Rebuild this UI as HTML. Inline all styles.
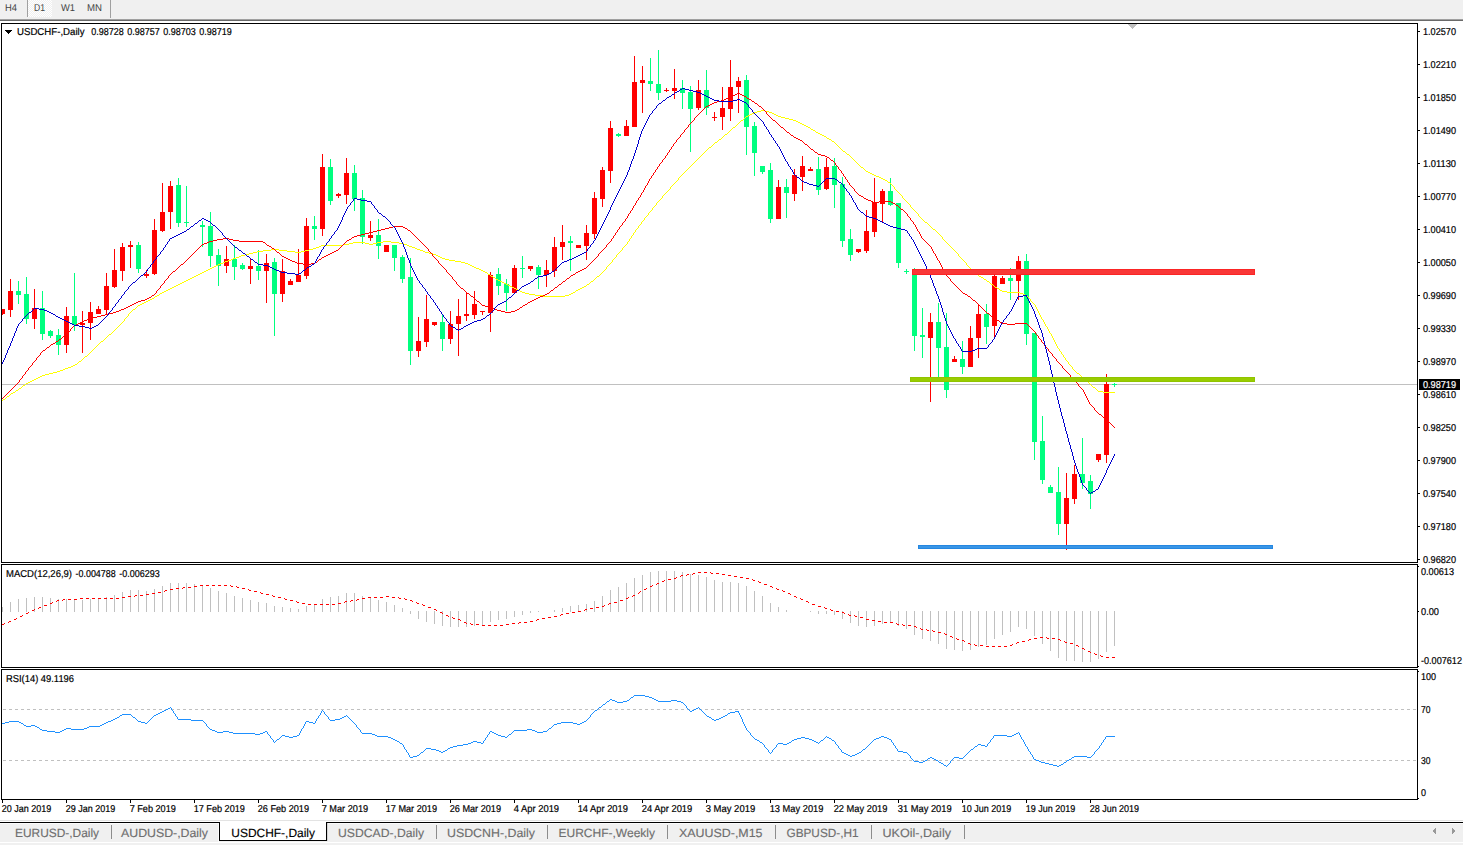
<!DOCTYPE html>
<html><head><meta charset="utf-8"><title>USDCHF-,Daily</title>
<style>html,body{margin:0;padding:0;background:#fff;overflow:hidden}svg{display:block;font-family:"Liberation Sans",sans-serif}text{white-space:pre}</style>
</head><body>
<svg width="1463" height="845" viewBox="0 0 1463 845" shape-rendering="crispEdges" text-rendering="geometricPrecision">
<defs><pattern id="chk" width="2" height="2" patternUnits="userSpaceOnUse"><rect width="2" height="2" fill="#f0f0f0"/><rect width="1" height="1" fill="#fff"/><rect x="1" y="1" width="1" height="1" fill="#fff"/></pattern></defs>
<rect x="0" y="0" width="1463" height="845" fill="#fff"/>
<rect x="0" y="0" width="1463" height="19" fill="#f0f0f0"/>
<rect x="0" y="19" width="1463" height="1" fill="#a0a0a0"/>
<rect x="0" y="20" width="1463" height="1" fill="#696969"/>
<rect x="28" y="0" width="24" height="17" fill="url(#chk)"/>
<rect x="27" y="0" width="1" height="17" fill="#a0a0a0"/>
<rect x="110" y="0" width="1" height="18" fill="#a0a0a0"/>
<text x="5" y="11" font-size="10" fill="#444" stroke="#444" stroke-width="0" textLength="12" lengthAdjust="spacingAndGlyphs">H4</text>
<text x="34" y="11" font-size="10" fill="#444" stroke="#444" stroke-width="0" textLength="11" lengthAdjust="spacingAndGlyphs">D1</text>
<text x="61" y="11" font-size="10" fill="#444" stroke="#444" stroke-width="0" textLength="14" lengthAdjust="spacingAndGlyphs">W1</text>
<text x="87" y="11" font-size="10" fill="#444" stroke="#444" stroke-width="0" textLength="15" lengthAdjust="spacingAndGlyphs">MN</text>
<rect x="1" y="23" width="1417" height="1" fill="#000"/>
<rect x="1" y="23" width="1" height="540" fill="#000"/>
<rect x="1417" y="23" width="1" height="540" fill="#000"/>
<rect x="1" y="562" width="1417" height="1" fill="#000"/>
<rect x="1" y="564" width="1417" height="1" fill="#000"/>
<rect x="1" y="564" width="1" height="104" fill="#000"/>
<rect x="1417" y="564" width="1" height="104" fill="#000"/>
<rect x="1" y="667" width="1417" height="1" fill="#000"/>
<rect x="1" y="669" width="1417" height="1" fill="#000"/>
<rect x="1" y="669" width="1" height="131" fill="#000"/>
<rect x="1417" y="669" width="1" height="131" fill="#000"/>
<rect x="1" y="799" width="1417" height="1" fill="#000"/>
<rect x="1418" y="31" width="2" height="1" fill="#000"/>
<text x="1423" y="35" font-size="10" fill="#000" stroke="#000" stroke-width="0.2" textLength="33" lengthAdjust="spacingAndGlyphs">1.02570</text>
<rect x="1418" y="64" width="2" height="1" fill="#000"/>
<text x="1423" y="68" font-size="10" fill="#000" stroke="#000" stroke-width="0.2" textLength="33" lengthAdjust="spacingAndGlyphs">1.02210</text>
<rect x="1418" y="97" width="2" height="1" fill="#000"/>
<text x="1423" y="101" font-size="10" fill="#000" stroke="#000" stroke-width="0.2" textLength="33" lengthAdjust="spacingAndGlyphs">1.01850</text>
<rect x="1418" y="130" width="2" height="1" fill="#000"/>
<text x="1423" y="134" font-size="10" fill="#000" stroke="#000" stroke-width="0.2" textLength="33" lengthAdjust="spacingAndGlyphs">1.01490</text>
<rect x="1418" y="163" width="2" height="1" fill="#000"/>
<text x="1423" y="167" font-size="10" fill="#000" stroke="#000" stroke-width="0.2" textLength="33" lengthAdjust="spacingAndGlyphs">1.01130</text>
<rect x="1418" y="196" width="2" height="1" fill="#000"/>
<text x="1423" y="200" font-size="10" fill="#000" stroke="#000" stroke-width="0.2" textLength="33" lengthAdjust="spacingAndGlyphs">1.00770</text>
<rect x="1418" y="229" width="2" height="1" fill="#000"/>
<text x="1423" y="233" font-size="10" fill="#000" stroke="#000" stroke-width="0.2" textLength="33" lengthAdjust="spacingAndGlyphs">1.00410</text>
<rect x="1418" y="262" width="2" height="1" fill="#000"/>
<text x="1423" y="266" font-size="10" fill="#000" stroke="#000" stroke-width="0.2" textLength="33" lengthAdjust="spacingAndGlyphs">1.00050</text>
<rect x="1418" y="295" width="2" height="1" fill="#000"/>
<text x="1423" y="299" font-size="10" fill="#000" stroke="#000" stroke-width="0.2" textLength="33" lengthAdjust="spacingAndGlyphs">0.99690</text>
<rect x="1418" y="328" width="2" height="1" fill="#000"/>
<text x="1423" y="332" font-size="10" fill="#000" stroke="#000" stroke-width="0.2" textLength="33" lengthAdjust="spacingAndGlyphs">0.99330</text>
<rect x="1418" y="361" width="2" height="1" fill="#000"/>
<text x="1423" y="365" font-size="10" fill="#000" stroke="#000" stroke-width="0.2" textLength="33" lengthAdjust="spacingAndGlyphs">0.98970</text>
<rect x="1418" y="394" width="2" height="1" fill="#000"/>
<text x="1423" y="398" font-size="10" fill="#000" stroke="#000" stroke-width="0.2" textLength="33" lengthAdjust="spacingAndGlyphs">0.98610</text>
<rect x="1418" y="427" width="2" height="1" fill="#000"/>
<text x="1423" y="431" font-size="10" fill="#000" stroke="#000" stroke-width="0.2" textLength="33" lengthAdjust="spacingAndGlyphs">0.98250</text>
<rect x="1418" y="460" width="2" height="1" fill="#000"/>
<text x="1423" y="464" font-size="10" fill="#000" stroke="#000" stroke-width="0.2" textLength="33" lengthAdjust="spacingAndGlyphs">0.97900</text>
<rect x="1418" y="493" width="2" height="1" fill="#000"/>
<text x="1423" y="497" font-size="10" fill="#000" stroke="#000" stroke-width="0.2" textLength="33" lengthAdjust="spacingAndGlyphs">0.97540</text>
<rect x="1418" y="526" width="2" height="1" fill="#000"/>
<text x="1423" y="530" font-size="10" fill="#000" stroke="#000" stroke-width="0.2" textLength="33" lengthAdjust="spacingAndGlyphs">0.97180</text>
<rect x="1418" y="559" width="2" height="1" fill="#000"/>
<text x="1423" y="563" font-size="10" fill="#000" stroke="#000" stroke-width="0.2" textLength="33" lengthAdjust="spacingAndGlyphs">0.96820</text>
<rect x="1418" y="566" width="1" height="1" fill="#000"/>
<rect x="1418" y="611" width="1" height="1" fill="#000"/>
<rect x="1418" y="666" width="1" height="1" fill="#000"/>
<text x="1421" y="575" font-size="10" fill="#000" stroke="#000" stroke-width="0.2" textLength="33" lengthAdjust="spacingAndGlyphs">0.00613</text>
<text x="1421" y="615" font-size="10" fill="#000" stroke="#000" stroke-width="0.2" textLength="18" lengthAdjust="spacingAndGlyphs">0.00</text>
<text x="1421" y="664" font-size="10" fill="#000" stroke="#000" stroke-width="0.2" textLength="41" lengthAdjust="spacingAndGlyphs">-0.007612</text>
<rect x="1418" y="671" width="1" height="1" fill="#000"/>
<rect x="1418" y="798" width="1" height="1" fill="#000"/>
<text x="1421" y="680" font-size="10" fill="#000" stroke="#000" stroke-width="0.2" textLength="15" lengthAdjust="spacingAndGlyphs">100</text>
<text x="1421" y="713" font-size="10" fill="#000" stroke="#000" stroke-width="0.2" textLength="9.5" lengthAdjust="spacingAndGlyphs">70</text>
<text x="1421" y="764" font-size="10" fill="#000" stroke="#000" stroke-width="0.2" textLength="9.5" lengthAdjust="spacingAndGlyphs">30</text>
<text x="1421" y="796" font-size="10" fill="#000" stroke="#000" stroke-width="0.2" textLength="5" lengthAdjust="spacingAndGlyphs">0</text>
<rect x="2" y="384" width="1415" height="1" fill="#c0c0c0"/>
<rect x="1128" y="24" width="9" height="1" fill="#c0c0c0"/>
<rect x="1129" y="25" width="7" height="1" fill="#c0c0c0"/>
<rect x="1130" y="26" width="5" height="1" fill="#c0c0c0"/>
<rect x="1131" y="27" width="3" height="1" fill="#c0c0c0"/>
<rect x="1132" y="28" width="1" height="1" fill="#c0c0c0"/>
<g>
<rect x="2" y="309" width="1" height="6" fill="#ff0000"/>
<rect x="2" y="309" width="3" height="5" fill="#ff0000"/>
<rect x="10" y="279" width="1" height="38" fill="#ff0000"/>
<rect x="8" y="291" width="5" height="19" fill="#ff0000"/>
<rect x="18" y="281" width="1" height="23" fill="#00ff7f"/>
<rect x="16" y="291" width="5" height="4" fill="#00ff7f"/>
<rect x="26" y="277" width="1" height="47" fill="#00ff7f"/>
<rect x="24" y="294" width="5" height="25" fill="#00ff7f"/>
<rect x="34" y="289" width="1" height="40" fill="#ff0000"/>
<rect x="32" y="308" width="5" height="11" fill="#ff0000"/>
<rect x="42" y="291" width="1" height="49" fill="#00ff7f"/>
<rect x="40" y="308" width="5" height="26" fill="#00ff7f"/>
<rect x="50" y="330" width="1" height="8" fill="#00ff7f"/>
<rect x="48" y="331" width="5" height="5" fill="#00ff7f"/>
<rect x="58" y="329" width="1" height="26" fill="#00ff7f"/>
<rect x="56" y="335" width="5" height="10" fill="#00ff7f"/>
<rect x="66" y="307" width="1" height="46" fill="#ff0000"/>
<rect x="64" y="316" width="5" height="29" fill="#ff0000"/>
<rect x="74" y="273" width="1" height="58" fill="#00ff7f"/>
<rect x="72" y="316" width="5" height="9" fill="#00ff7f"/>
<rect x="82" y="311" width="1" height="42" fill="#ff0000"/>
<rect x="80" y="323" width="5" height="2" fill="#ff0000"/>
<rect x="90" y="302" width="1" height="38" fill="#ff0000"/>
<rect x="88" y="312" width="5" height="11" fill="#ff0000"/>
<rect x="98" y="306" width="1" height="8" fill="#ff0000"/>
<rect x="96" y="309" width="5" height="5" fill="#ff0000"/>
<rect x="106" y="273" width="1" height="42" fill="#ff0000"/>
<rect x="104" y="286" width="5" height="24" fill="#ff0000"/>
<rect x="114" y="249" width="1" height="39" fill="#ff0000"/>
<rect x="112" y="270" width="5" height="17" fill="#ff0000"/>
<rect x="122" y="243" width="1" height="38" fill="#ff0000"/>
<rect x="120" y="247" width="5" height="24" fill="#ff0000"/>
<rect x="130" y="241" width="1" height="27" fill="#ff0000"/>
<rect x="128" y="245" width="5" height="2" fill="#ff0000"/>
<rect x="138" y="242" width="1" height="31" fill="#00ff7f"/>
<rect x="136" y="245" width="5" height="24" fill="#00ff7f"/>
<rect x="146" y="270" width="1" height="8" fill="#ff0000"/>
<rect x="144" y="274" width="5" height="2" fill="#ff0000"/>
<rect x="154" y="219" width="1" height="56" fill="#ff0000"/>
<rect x="152" y="230" width="5" height="44" fill="#ff0000"/>
<rect x="162" y="183" width="1" height="49" fill="#ff0000"/>
<rect x="160" y="212" width="5" height="19" fill="#ff0000"/>
<rect x="170" y="181" width="1" height="48" fill="#ff0000"/>
<rect x="168" y="186" width="5" height="26" fill="#ff0000"/>
<rect x="178" y="178" width="1" height="49" fill="#00ff7f"/>
<rect x="176" y="185" width="5" height="38" fill="#00ff7f"/>
<rect x="186" y="186" width="1" height="41" fill="#00ff7f"/>
<rect x="184" y="222" width="5" height="1" fill="#00ff7f"/>
<rect x="202" y="221" width="1" height="26" fill="#00ff7f"/>
<rect x="200" y="225" width="5" height="2" fill="#00ff7f"/>
<rect x="210" y="212" width="1" height="55" fill="#00ff7f"/>
<rect x="208" y="226" width="5" height="30" fill="#00ff7f"/>
<rect x="218" y="249" width="1" height="37" fill="#00ff7f"/>
<rect x="216" y="255" width="5" height="11" fill="#00ff7f"/>
<rect x="226" y="246" width="1" height="27" fill="#ff0000"/>
<rect x="224" y="259" width="5" height="7" fill="#ff0000"/>
<rect x="234" y="245" width="1" height="35" fill="#00ff7f"/>
<rect x="232" y="259" width="5" height="8" fill="#00ff7f"/>
<rect x="242" y="263" width="1" height="7" fill="#00ff7f"/>
<rect x="240" y="265" width="5" height="4" fill="#00ff7f"/>
<rect x="250" y="258" width="1" height="26" fill="#ff0000"/>
<rect x="248" y="266" width="5" height="3" fill="#ff0000"/>
<rect x="258" y="250" width="1" height="30" fill="#00ff7f"/>
<rect x="256" y="266" width="5" height="5" fill="#00ff7f"/>
<rect x="266" y="254" width="1" height="49" fill="#ff0000"/>
<rect x="264" y="263" width="5" height="8" fill="#ff0000"/>
<rect x="274" y="258" width="1" height="78" fill="#00ff7f"/>
<rect x="272" y="262" width="5" height="32" fill="#00ff7f"/>
<rect x="282" y="259" width="1" height="43" fill="#ff0000"/>
<rect x="280" y="271" width="5" height="23" fill="#ff0000"/>
<rect x="290" y="279" width="1" height="6" fill="#ff0000"/>
<rect x="288" y="281" width="5" height="4" fill="#ff0000"/>
<rect x="298" y="249" width="1" height="33" fill="#ff0000"/>
<rect x="296" y="275" width="5" height="7" fill="#ff0000"/>
<rect x="306" y="218" width="1" height="61" fill="#ff0000"/>
<rect x="304" y="226" width="5" height="50" fill="#ff0000"/>
<rect x="314" y="216" width="1" height="24" fill="#00ff7f"/>
<rect x="312" y="226" width="5" height="3" fill="#00ff7f"/>
<rect x="322" y="154" width="1" height="82" fill="#ff0000"/>
<rect x="320" y="167" width="5" height="62" fill="#ff0000"/>
<rect x="330" y="159" width="1" height="46" fill="#00ff7f"/>
<rect x="328" y="167" width="5" height="34" fill="#00ff7f"/>
<rect x="338" y="193" width="1" height="5" fill="#ff0000"/>
<rect x="336" y="194" width="5" height="2" fill="#ff0000"/>
<rect x="346" y="158" width="1" height="46" fill="#ff0000"/>
<rect x="344" y="173" width="5" height="22" fill="#ff0000"/>
<rect x="354" y="165" width="1" height="46" fill="#00ff7f"/>
<rect x="352" y="173" width="5" height="26" fill="#00ff7f"/>
<rect x="362" y="190" width="1" height="54" fill="#00ff7f"/>
<rect x="360" y="198" width="5" height="39" fill="#00ff7f"/>
<rect x="370" y="221" width="1" height="20" fill="#ff0000"/>
<rect x="368" y="235" width="5" height="3" fill="#ff0000"/>
<rect x="378" y="219" width="1" height="40" fill="#00ff7f"/>
<rect x="376" y="235" width="5" height="11" fill="#00ff7f"/>
<rect x="386" y="245" width="1" height="7" fill="#ff0000"/>
<rect x="384" y="245" width="5" height="7" fill="#ff0000"/>
<rect x="394" y="245" width="1" height="26" fill="#00ff7f"/>
<rect x="392" y="245" width="5" height="13" fill="#00ff7f"/>
<rect x="402" y="255" width="1" height="28" fill="#00ff7f"/>
<rect x="400" y="257" width="5" height="22" fill="#00ff7f"/>
<rect x="410" y="258" width="1" height="107" fill="#00ff7f"/>
<rect x="408" y="277" width="5" height="74" fill="#00ff7f"/>
<rect x="418" y="317" width="1" height="40" fill="#ff0000"/>
<rect x="416" y="341" width="5" height="10" fill="#ff0000"/>
<rect x="426" y="295" width="1" height="52" fill="#ff0000"/>
<rect x="424" y="319" width="5" height="23" fill="#ff0000"/>
<rect x="434" y="322" width="1" height="4" fill="#ff0000"/>
<rect x="432" y="322" width="5" height="3" fill="#ff0000"/>
<rect x="442" y="315" width="1" height="36" fill="#00ff7f"/>
<rect x="440" y="322" width="5" height="17" fill="#00ff7f"/>
<rect x="450" y="311" width="1" height="33" fill="#ff0000"/>
<rect x="448" y="324" width="5" height="15" fill="#ff0000"/>
<rect x="458" y="299" width="1" height="57" fill="#ff0000"/>
<rect x="456" y="316" width="5" height="8" fill="#ff0000"/>
<rect x="466" y="292" width="1" height="29" fill="#ff0000"/>
<rect x="464" y="314" width="5" height="2" fill="#ff0000"/>
<rect x="474" y="291" width="1" height="28" fill="#ff0000"/>
<rect x="472" y="304" width="5" height="11" fill="#ff0000"/>
<rect x="482" y="311" width="1" height="4" fill="#ff0000"/>
<rect x="480" y="311" width="5" height="1" fill="#ff0000"/>
<rect x="490" y="272" width="1" height="60" fill="#ff0000"/>
<rect x="488" y="275" width="5" height="38" fill="#ff0000"/>
<rect x="498" y="268" width="1" height="27" fill="#00ff7f"/>
<rect x="496" y="274" width="5" height="12" fill="#00ff7f"/>
<rect x="506" y="279" width="1" height="32" fill="#00ff7f"/>
<rect x="504" y="284" width="5" height="9" fill="#00ff7f"/>
<rect x="514" y="265" width="1" height="28" fill="#ff0000"/>
<rect x="512" y="268" width="5" height="25" fill="#ff0000"/>
<rect x="522" y="256" width="1" height="22" fill="#00ff7f"/>
<rect x="520" y="268" width="5" height="1" fill="#00ff7f"/>
<rect x="530" y="266" width="1" height="5" fill="#ff0000"/>
<rect x="528" y="266" width="5" height="3" fill="#ff0000"/>
<rect x="538" y="265" width="1" height="24" fill="#00ff7f"/>
<rect x="536" y="267" width="5" height="8" fill="#00ff7f"/>
<rect x="546" y="260" width="1" height="27" fill="#ff0000"/>
<rect x="544" y="270" width="5" height="5" fill="#ff0000"/>
<rect x="554" y="237" width="1" height="40" fill="#ff0000"/>
<rect x="552" y="247" width="5" height="24" fill="#ff0000"/>
<rect x="562" y="225" width="1" height="35" fill="#ff0000"/>
<rect x="560" y="242" width="5" height="5" fill="#ff0000"/>
<rect x="570" y="236" width="1" height="35" fill="#00ff7f"/>
<rect x="568" y="241" width="5" height="2" fill="#00ff7f"/>
<rect x="578" y="245" width="1" height="3" fill="#ff0000"/>
<rect x="576" y="245" width="5" height="3" fill="#ff0000"/>
<rect x="586" y="225" width="1" height="35" fill="#ff0000"/>
<rect x="584" y="233" width="5" height="13" fill="#ff0000"/>
<rect x="594" y="192" width="1" height="47" fill="#ff0000"/>
<rect x="592" y="198" width="5" height="36" fill="#ff0000"/>
<rect x="602" y="167" width="1" height="40" fill="#ff0000"/>
<rect x="600" y="170" width="5" height="29" fill="#ff0000"/>
<rect x="610" y="121" width="1" height="62" fill="#ff0000"/>
<rect x="608" y="128" width="5" height="43" fill="#ff0000"/>
<rect x="618" y="133" width="1" height="4" fill="#00ff7f"/>
<rect x="616" y="134" width="5" height="2" fill="#00ff7f"/>
<rect x="626" y="120" width="1" height="16" fill="#ff0000"/>
<rect x="624" y="126" width="5" height="10" fill="#ff0000"/>
<rect x="634" y="56" width="1" height="71" fill="#ff0000"/>
<rect x="632" y="82" width="5" height="45" fill="#ff0000"/>
<rect x="642" y="66" width="1" height="47" fill="#ff0000"/>
<rect x="640" y="80" width="5" height="3" fill="#ff0000"/>
<rect x="650" y="58" width="1" height="33" fill="#00ff7f"/>
<rect x="648" y="81" width="5" height="3" fill="#00ff7f"/>
<rect x="658" y="50" width="1" height="50" fill="#00ff7f"/>
<rect x="656" y="84" width="5" height="9" fill="#00ff7f"/>
<rect x="666" y="88" width="1" height="4" fill="#ff0000"/>
<rect x="664" y="90" width="5" height="1" fill="#ff0000"/>
<rect x="674" y="69" width="1" height="30" fill="#ff0000"/>
<rect x="672" y="88" width="5" height="3" fill="#ff0000"/>
<rect x="682" y="80" width="1" height="29" fill="#00ff7f"/>
<rect x="680" y="88" width="5" height="5" fill="#00ff7f"/>
<rect x="690" y="86" width="1" height="66" fill="#00ff7f"/>
<rect x="688" y="92" width="5" height="17" fill="#00ff7f"/>
<rect x="698" y="80" width="1" height="30" fill="#ff0000"/>
<rect x="696" y="90" width="5" height="18" fill="#ff0000"/>
<rect x="706" y="70" width="1" height="45" fill="#00ff7f"/>
<rect x="704" y="90" width="5" height="18" fill="#00ff7f"/>
<rect x="714" y="112" width="1" height="9" fill="#ff0000"/>
<rect x="712" y="117" width="5" height="1" fill="#ff0000"/>
<rect x="722" y="87" width="1" height="43" fill="#ff0000"/>
<rect x="720" y="108" width="5" height="9" fill="#ff0000"/>
<rect x="730" y="60" width="1" height="61" fill="#ff0000"/>
<rect x="728" y="87" width="5" height="22" fill="#ff0000"/>
<rect x="738" y="77" width="1" height="36" fill="#ff0000"/>
<rect x="736" y="81" width="5" height="6" fill="#ff0000"/>
<rect x="746" y="75" width="1" height="80" fill="#00ff7f"/>
<rect x="744" y="80" width="5" height="47" fill="#00ff7f"/>
<rect x="754" y="122" width="1" height="54" fill="#00ff7f"/>
<rect x="752" y="126" width="5" height="27" fill="#00ff7f"/>
<rect x="762" y="166" width="1" height="8" fill="#00ff7f"/>
<rect x="760" y="166" width="5" height="6" fill="#00ff7f"/>
<rect x="770" y="163" width="1" height="60" fill="#00ff7f"/>
<rect x="768" y="170" width="5" height="49" fill="#00ff7f"/>
<rect x="778" y="180" width="1" height="39" fill="#ff0000"/>
<rect x="776" y="187" width="5" height="32" fill="#ff0000"/>
<rect x="786" y="179" width="1" height="39" fill="#00ff7f"/>
<rect x="784" y="187" width="5" height="6" fill="#00ff7f"/>
<rect x="794" y="169" width="1" height="32" fill="#ff0000"/>
<rect x="792" y="175" width="5" height="19" fill="#ff0000"/>
<rect x="802" y="156" width="1" height="35" fill="#ff0000"/>
<rect x="800" y="166" width="5" height="11" fill="#ff0000"/>
<rect x="810" y="167" width="1" height="4" fill="#ff0000"/>
<rect x="808" y="169" width="5" height="2" fill="#ff0000"/>
<rect x="818" y="157" width="1" height="38" fill="#00ff7f"/>
<rect x="816" y="169" width="5" height="21" fill="#00ff7f"/>
<rect x="826" y="158" width="1" height="32" fill="#ff0000"/>
<rect x="824" y="167" width="5" height="22" fill="#ff0000"/>
<rect x="834" y="158" width="1" height="50" fill="#00ff7f"/>
<rect x="832" y="166" width="5" height="19" fill="#00ff7f"/>
<rect x="842" y="177" width="1" height="70" fill="#00ff7f"/>
<rect x="840" y="184" width="5" height="57" fill="#00ff7f"/>
<rect x="850" y="229" width="1" height="32" fill="#00ff7f"/>
<rect x="848" y="239" width="5" height="16" fill="#00ff7f"/>
<rect x="858" y="249" width="1" height="4" fill="#ff0000"/>
<rect x="856" y="249" width="5" height="3" fill="#ff0000"/>
<rect x="866" y="210" width="1" height="43" fill="#ff0000"/>
<rect x="864" y="231" width="5" height="20" fill="#ff0000"/>
<rect x="874" y="178" width="1" height="59" fill="#ff0000"/>
<rect x="872" y="202" width="5" height="30" fill="#ff0000"/>
<rect x="882" y="189" width="1" height="33" fill="#ff0000"/>
<rect x="880" y="191" width="5" height="13" fill="#ff0000"/>
<rect x="890" y="178" width="1" height="28" fill="#00ff7f"/>
<rect x="888" y="191" width="5" height="14" fill="#00ff7f"/>
<rect x="898" y="203" width="1" height="65" fill="#00ff7f"/>
<rect x="896" y="203" width="5" height="60" fill="#00ff7f"/>
<rect x="906" y="269" width="1" height="5" fill="#00ff7f"/>
<rect x="904" y="271" width="5" height="1" fill="#00ff7f"/>
<rect x="914" y="268" width="1" height="83" fill="#00ff7f"/>
<rect x="912" y="270" width="5" height="66" fill="#00ff7f"/>
<rect x="922" y="308" width="1" height="50" fill="#00ff7f"/>
<rect x="920" y="335" width="5" height="2" fill="#00ff7f"/>
<rect x="930" y="313" width="1" height="89" fill="#ff0000"/>
<rect x="928" y="322" width="5" height="16" fill="#ff0000"/>
<rect x="938" y="303" width="1" height="75" fill="#00ff7f"/>
<rect x="936" y="322" width="5" height="26" fill="#00ff7f"/>
<rect x="946" y="313" width="1" height="85" fill="#00ff7f"/>
<rect x="944" y="347" width="5" height="43" fill="#00ff7f"/>
<rect x="954" y="356" width="1" height="6" fill="#ff0000"/>
<rect x="952" y="359" width="5" height="3" fill="#ff0000"/>
<rect x="962" y="341" width="1" height="33" fill="#00ff7f"/>
<rect x="960" y="359" width="5" height="8" fill="#00ff7f"/>
<rect x="970" y="326" width="1" height="41" fill="#ff0000"/>
<rect x="968" y="338" width="5" height="29" fill="#ff0000"/>
<rect x="978" y="305" width="1" height="53" fill="#ff0000"/>
<rect x="976" y="314" width="5" height="24" fill="#ff0000"/>
<rect x="986" y="304" width="1" height="40" fill="#00ff7f"/>
<rect x="984" y="314" width="5" height="13" fill="#00ff7f"/>
<rect x="994" y="275" width="1" height="63" fill="#ff0000"/>
<rect x="992" y="276" width="5" height="50" fill="#ff0000"/>
<rect x="1002" y="276" width="1" height="8" fill="#ff0000"/>
<rect x="1000" y="278" width="5" height="6" fill="#ff0000"/>
<rect x="1010" y="268" width="1" height="32" fill="#00ff7f"/>
<rect x="1008" y="278" width="5" height="3" fill="#00ff7f"/>
<rect x="1018" y="256" width="1" height="44" fill="#ff0000"/>
<rect x="1016" y="261" width="5" height="20" fill="#ff0000"/>
<rect x="1026" y="254" width="1" height="91" fill="#00ff7f"/>
<rect x="1024" y="261" width="5" height="73" fill="#00ff7f"/>
<rect x="1034" y="333" width="1" height="127" fill="#00ff7f"/>
<rect x="1032" y="333" width="5" height="109" fill="#00ff7f"/>
<rect x="1042" y="416" width="1" height="68" fill="#00ff7f"/>
<rect x="1040" y="441" width="5" height="39" fill="#00ff7f"/>
<rect x="1050" y="485" width="1" height="8" fill="#00ff7f"/>
<rect x="1048" y="487" width="5" height="6" fill="#00ff7f"/>
<rect x="1058" y="467" width="1" height="68" fill="#00ff7f"/>
<rect x="1056" y="492" width="5" height="32" fill="#00ff7f"/>
<rect x="1066" y="473" width="1" height="77" fill="#ff0000"/>
<rect x="1064" y="498" width="5" height="26" fill="#ff0000"/>
<rect x="1074" y="465" width="1" height="39" fill="#ff0000"/>
<rect x="1072" y="474" width="5" height="25" fill="#ff0000"/>
<rect x="1082" y="438" width="1" height="51" fill="#00ff7f"/>
<rect x="1080" y="474" width="5" height="9" fill="#00ff7f"/>
<rect x="1090" y="475" width="1" height="34" fill="#00ff7f"/>
<rect x="1088" y="481" width="5" height="13" fill="#00ff7f"/>
<rect x="1098" y="454" width="1" height="8" fill="#ff0000"/>
<rect x="1096" y="454" width="5" height="6" fill="#ff0000"/>
<rect x="1106" y="374" width="1" height="89" fill="#ff0000"/>
<rect x="1104" y="384" width="5" height="71" fill="#ff0000"/>
<rect x="1114" y="383" width="1" height="4" fill="#00ff7f"/>
<rect x="1112" y="384" width="5" height="1" fill="#00ff7f"/>
</g>
<path d="M761 110h4v1h-4zM757 111h4v1h-4zM765 111h4v1h-4zM754 112h3v1h-3zM769 112h3v1h-3zM752 113h2v1h-2zM772 113h2v1h-2zM750 114h2v1h-2zM774 114h2v1h-2zM748 115h2v1h-2zM776 115h2v1h-2zM746 116h2v1h-2zM778 116h3v1h-3zM745 117h1v1h-1zM781 117h4v1h-4zM744 118h1v1h-1zM785 118h4v1h-4zM743 119h1v1h-1zM789 119h4v1h-4zM741 120h2v1h-2zM793 120h3v1h-3zM740 121h1v1h-1zM796 121h2v1h-2zM739 122h1v1h-1zM798 122h2v1h-2zM738 123h1v1h-1zM800 123h2v1h-2zM737 124h1v1h-1zM802 124h2v1h-2zM736 125h1v1h-1zM804 125h2v1h-2zM735 126h1v1h-1zM806 126h2v1h-2zM733 127h2v1h-2zM808 127h2v1h-2zM732 128h1v1h-1zM810 128h1v1h-1zM731 129h1v1h-1zM811 129h2v1h-2zM730 130h1v1h-1zM813 130h2v1h-2zM729 131h1v1h-1zM815 131h1v1h-1zM728 132h1v1h-1zM816 132h2v1h-2zM727 133h1v1h-1zM818 133h2v1h-2zM725 134h2v1h-2zM820 134h2v1h-2zM724 135h1v1h-1zM822 135h2v1h-2zM723 136h1v1h-1zM824 136h2v1h-2zM722 137h1v1h-1zM826 137h1v1h-1zM721 138h1v1h-1zM827 138h2v1h-2zM719 139h2v1h-2zM829 139h2v1h-2zM718 140h1v1h-1zM831 140h1v1h-1zM717 141h1v1h-1zM832 141h2v1h-2zM715 142h2v1h-2zM834 142h1v1h-1zM714 143h1v1h-1zM835 143h1v1h-1zM713 144h1v1h-1zM836 144h1v1h-1zM712 145h1v1h-1zM837 145h1v1h-1zM711 146h1v1h-1zM838 146h1v1h-1zM709 147h2v1h-2zM839 147h1v1h-1zM708 148h1v1h-1zM840 148h1v1h-1zM707 149h1v1h-1zM841 149h1v1h-1zM706 150h1v1h-1zM842 150h1v1h-1zM705 151h1v1h-1zM843 151h2v1h-2zM704 152h1v1h-1zM845 152h1v1h-1zM703 153h1v1h-1zM846 153h1v1h-1zM702 154h1v1h-1zM847 154h2v1h-2zM701 155h1v1h-1zM849 155h1v1h-1zM700 156h1v1h-1zM850 156h1v1h-1zM699 157h1v1h-1zM851 157h1v1h-1zM698 158h1v1h-1zM852 158h1v1h-1zM697 159h1v1h-1zM853 159h1v1h-1zM696 160h1v1h-1zM854 160h1v1h-1zM695 161h1v1h-1zM855 161h1v1h-1zM694 162h1v1h-1zM856 162h1v1h-1zM693 163h1v1h-1zM857 163h1v1h-1zM692 164h1v1h-1zM858 164h1v1h-1zM691 165h1v1h-1zM859 165h1v1h-1zM690 166h1v1h-1zM860 166h1v1h-1zM689 167h1v1h-1zM861 167h2v1h-2zM688 168h1v1h-1zM863 168h1v1h-1zM687 169h1v1h-1zM864 169h1v1h-1zM686 170h1v1h-1zM865 170h1v1h-1zM685 171h1v1h-1zM866 171h2v1h-2zM684 172h1v1h-1zM868 172h2v1h-2zM683 173h1v1h-1zM870 173h2v1h-2zM682 174h1v1h-1zM872 174h2v1h-2zM681 175h1v1h-1zM874 175h2v1h-2zM680 176h1v1h-1zM876 176h3v1h-3zM679 177h1v1h-1zM879 177h2v1h-2zM678 178h1v2h-1zM881 178h2v1h-2zM883 179h2v1h-2zM677 180h1v1h-1zM885 180h2v1h-2zM676 181h1v1h-1zM887 181h1v1h-1zM675 182h1v1h-1zM888 182h2v1h-2zM674 183h1v1h-1zM890 183h1v1h-1zM673 184h1v1h-1zM891 184h1v1h-1zM672 185h1v1h-1zM892 185h1v1h-1zM671 186h1v1h-1zM893 186h1v1h-1zM670 187h1v2h-1zM894 187h1v2h-1zM669 189h1v1h-1zM895 189h1v1h-1zM668 190h1v1h-1zM896 190h1v1h-1zM667 191h1v1h-1zM897 191h1v1h-1zM666 192h1v1h-1zM898 192h1v1h-1zM665 193h1v1h-1zM899 193h1v1h-1zM664 194h1v1h-1zM900 194h1v1h-1zM663 195h1v1h-1zM901 195h1v1h-1zM662 196h1v2h-1zM902 196h1v2h-1zM661 198h1v1h-1zM903 198h1v1h-1zM660 199h1v1h-1zM904 199h1v1h-1zM659 200h1v1h-1zM905 200h1v1h-1zM658 201h1v1h-1zM906 201h1v1h-1zM657 202h1v1h-1zM907 202h1v1h-1zM656 203h1v2h-1zM908 203h1v1h-1zM909 204h1v1h-1zM655 205h1v1h-1zM910 205h1v2h-1zM654 206h1v1h-1zM653 207h1v1h-1zM911 207h1v1h-1zM652 208h1v2h-1zM912 208h1v1h-1zM913 209h1v1h-1zM651 210h1v1h-1zM914 210h1v1h-1zM650 211h1v1h-1zM915 211h1v1h-1zM649 212h1v1h-1zM916 212h1v1h-1zM648 213h1v2h-1zM917 213h1v1h-1zM918 214h1v2h-1zM647 215h1v1h-1zM646 216h1v1h-1zM919 216h1v1h-1zM645 217h1v1h-1zM920 217h1v1h-1zM644 218h1v2h-1zM921 218h1v1h-1zM922 219h1v1h-1zM643 220h1v1h-1zM923 220h1v1h-1zM642 221h1v1h-1zM924 221h1v1h-1zM641 222h1v2h-1zM925 222h2v1h-2zM927 223h1v1h-1zM640 224h1v1h-1zM928 224h1v1h-1zM639 225h1v1h-1zM929 225h1v1h-1zM638 226h1v2h-1zM930 226h1v1h-1zM931 227h1v1h-1zM637 228h1v1h-1zM932 228h1v1h-1zM636 229h1v1h-1zM933 229h2v1h-2zM635 230h1v2h-1zM935 230h1v1h-1zM936 231h1v1h-1zM634 232h1v1h-1zM937 232h1v1h-1zM633 233h1v2h-1zM938 233h1v1h-1zM939 234h1v1h-1zM632 235h1v1h-1zM940 235h1v1h-1zM631 236h1v2h-1zM941 236h1v1h-1zM942 237h1v2h-1zM630 238h1v1h-1zM629 239h1v2h-1zM943 239h1v1h-1zM944 240h1v1h-1zM383 241h8v1h-8zM628 241h1v1h-1zM945 241h1v1h-1zM353 242h12v1h-12zM377 242h6v1h-6zM391 242h8v1h-8zM627 242h1v2h-1zM946 242h1v1h-1zM349 243h4v1h-4zM365 243h4v1h-4zM373 243h4v1h-4zM399 243h5v1h-5zM947 243h1v1h-1zM343 244h6v1h-6zM369 244h4v1h-4zM404 244h3v1h-3zM626 244h1v1h-1zM948 244h1v1h-1zM321 245h22v1h-22zM407 245h2v1h-2zM625 245h1v1h-1zM949 245h1v1h-1zM319 246h2v1h-2zM409 246h3v1h-3zM624 246h1v1h-1zM950 246h1v1h-1zM316 247h3v1h-3zM412 247h3v1h-3zM623 247h1v1h-1zM951 247h1v1h-1zM313 248h3v1h-3zM415 248h2v1h-2zM622 248h1v2h-1zM952 248h1v1h-1zM271 249h8v1h-8zM309 249h4v1h-4zM417 249h3v1h-3zM953 249h1v1h-1zM263 250h8v1h-8zM279 250h8v1h-8zM305 250h4v1h-4zM420 250h3v1h-3zM621 250h1v1h-1zM954 250h1v1h-1zM257 251h6v1h-6zM287 251h8v1h-8zM301 251h4v1h-4zM423 251h2v1h-2zM620 251h1v1h-1zM955 251h1v1h-1zM253 252h4v1h-4zM295 252h6v1h-6zM425 252h4v1h-4zM619 252h1v1h-1zM956 252h1v1h-1zM249 253h4v1h-4zM429 253h4v1h-4zM618 253h1v1h-1zM957 253h1v1h-1zM245 254h4v1h-4zM433 254h3v1h-3zM617 254h1v1h-1zM958 254h1v2h-1zM241 255h4v1h-4zM436 255h2v1h-2zM616 255h1v2h-1zM239 256h2v1h-2zM438 256h2v1h-2zM959 256h1v1h-1zM236 257h3v1h-3zM440 257h2v1h-2zM615 257h1v1h-1zM960 257h1v1h-1zM233 258h3v1h-3zM442 258h3v1h-3zM614 258h1v1h-1zM961 258h1v1h-1zM231 259h2v1h-2zM445 259h4v1h-4zM613 259h1v1h-1zM962 259h1v1h-1zM228 260h3v1h-3zM449 260h6v1h-6zM612 260h1v2h-1zM963 260h1v1h-1zM225 261h3v1h-3zM455 261h6v1h-6zM964 261h1v1h-1zM223 262h2v1h-2zM461 262h4v1h-4zM611 262h1v1h-1zM965 262h1v1h-1zM220 263h3v1h-3zM465 263h3v1h-3zM610 263h1v1h-1zM966 263h1v2h-1zM218 264h2v1h-2zM468 264h2v1h-2zM609 264h1v1h-1zM216 265h2v1h-2zM470 265h2v1h-2zM608 265h1v1h-1zM967 265h1v1h-1zM214 266h2v1h-2zM472 266h2v1h-2zM607 266h1v1h-1zM968 266h1v1h-1zM212 267h2v1h-2zM474 267h2v1h-2zM606 267h1v2h-1zM969 267h1v1h-1zM210 268h2v1h-2zM476 268h3v1h-3zM970 268h1v1h-1zM208 269h2v1h-2zM479 269h2v1h-2zM605 269h1v1h-1zM971 269h1v1h-1zM206 270h2v1h-2zM481 270h2v1h-2zM604 270h1v1h-1zM972 270h1v1h-1zM204 271h2v1h-2zM483 271h2v1h-2zM603 271h1v1h-1zM973 271h2v1h-2zM202 272h2v1h-2zM485 272h2v1h-2zM602 272h1v1h-1zM975 272h1v1h-1zM200 273h2v1h-2zM487 273h1v1h-1zM601 273h1v1h-1zM976 273h1v1h-1zM198 274h2v1h-2zM488 274h2v1h-2zM600 274h1v1h-1zM977 274h1v1h-1zM196 275h2v1h-2zM490 275h1v1h-1zM599 275h1v1h-1zM978 275h1v1h-1zM194 276h2v1h-2zM491 276h2v1h-2zM597 276h2v1h-2zM979 276h2v1h-2zM192 277h2v1h-2zM493 277h2v1h-2zM596 277h1v1h-1zM981 277h2v1h-2zM190 278h2v1h-2zM495 278h1v1h-1zM595 278h1v1h-1zM983 278h1v1h-1zM188 279h2v1h-2zM496 279h2v1h-2zM594 279h1v1h-1zM984 279h2v1h-2zM186 280h2v1h-2zM498 280h2v1h-2zM593 280h1v1h-1zM986 280h1v1h-1zM184 281h2v1h-2zM500 281h2v1h-2zM591 281h2v1h-2zM987 281h2v1h-2zM182 282h2v1h-2zM502 282h2v1h-2zM590 282h1v1h-1zM989 282h1v1h-1zM180 283h2v1h-2zM504 283h2v1h-2zM589 283h1v1h-1zM990 283h1v1h-1zM178 284h2v1h-2zM506 284h2v1h-2zM587 284h2v1h-2zM991 284h2v1h-2zM176 285h2v1h-2zM508 285h2v1h-2zM586 285h1v1h-1zM993 285h1v1h-1zM174 286h2v1h-2zM510 286h2v1h-2zM584 286h2v1h-2zM994 286h1v1h-1zM172 287h2v1h-2zM512 287h2v1h-2zM582 287h2v1h-2zM995 287h2v1h-2zM170 288h2v1h-2zM514 288h2v1h-2zM580 288h2v1h-2zM997 288h2v1h-2zM168 289h2v1h-2zM516 289h2v1h-2zM578 289h2v1h-2zM999 289h1v1h-1zM166 290h2v1h-2zM518 290h2v1h-2zM576 290h2v1h-2zM1000 290h2v1h-2zM164 291h2v1h-2zM520 291h2v1h-2zM575 291h1v1h-1zM1002 291h5v1h-5zM162 292h2v1h-2zM522 292h3v1h-3zM573 292h2v1h-2zM1007 292h13v1h-13zM160 293h2v1h-2zM525 293h4v1h-4zM571 293h2v1h-2zM1020 293h3v1h-3zM159 294h1v1h-1zM529 294h6v1h-6zM569 294h2v1h-2zM1023 294h2v1h-2zM157 295h2v1h-2zM535 295h8v1h-8zM565 295h4v1h-4zM1025 295h2v1h-2zM155 296h2v1h-2zM543 296h22v1h-22zM1027 296h1v1h-1zM154 297h1v1h-1zM1028 297h1v1h-1zM152 298h2v1h-2zM1029 298h1v1h-1zM150 299h2v1h-2zM1030 299h1v2h-1zM148 300h2v1h-2zM146 301h2v1h-2zM1031 301h1v1h-1zM144 302h2v1h-2zM1032 302h1v1h-1zM142 303h2v1h-2zM1033 303h1v1h-1zM140 304h2v1h-2zM1034 304h1v1h-1zM138 305h2v1h-2zM1035 305h1v2h-1zM137 306h1v1h-1zM136 307h1v1h-1zM1036 307h1v2h-1zM135 308h1v1h-1zM133 309h2v1h-2zM1037 309h1v2h-1zM132 310h1v1h-1zM131 311h1v1h-1zM1038 311h1v2h-1zM130 312h1v1h-1zM129 313h1v1h-1zM1039 313h1v2h-1zM128 314h1v2h-1zM1040 315h1v2h-1zM127 316h1v1h-1zM126 317h1v1h-1zM1041 317h1v2h-1zM125 318h1v1h-1zM124 319h1v2h-1zM1042 319h1v1h-1zM1043 320h1v2h-1zM123 321h1v1h-1zM122 322h1v1h-1zM1044 322h1v2h-1zM121 323h1v1h-1zM120 324h1v1h-1zM1045 324h1v2h-1zM119 325h1v1h-1zM118 326h1v1h-1zM1046 326h1v1h-1zM117 327h1v1h-1zM1047 327h1v2h-1zM116 328h1v1h-1zM115 329h1v1h-1zM1048 329h1v2h-1zM114 330h1v1h-1zM113 331h1v1h-1zM1049 331h1v2h-1zM112 332h1v1h-1zM111 333h1v1h-1zM1050 333h1v1h-1zM109 334h2v1h-2zM1051 334h1v2h-1zM108 335h1v1h-1zM107 336h1v1h-1zM1052 336h1v2h-1zM106 337h1v1h-1zM105 338h1v1h-1zM1053 338h1v2h-1zM104 339h1v1h-1zM103 340h1v1h-1zM1054 340h1v2h-1zM101 341h2v1h-2zM100 342h1v1h-1zM1055 342h1v2h-1zM99 343h1v1h-1zM98 344h1v1h-1zM1056 344h1v2h-1zM97 345h1v1h-1zM96 346h1v1h-1zM1057 346h1v2h-1zM95 347h1v1h-1zM94 348h1v1h-1zM1058 348h1v1h-1zM93 349h1v1h-1zM1059 349h1v2h-1zM92 350h1v1h-1zM91 351h1v1h-1zM1060 351h1v1h-1zM90 352h1v1h-1zM1061 352h1v2h-1zM89 353h1v1h-1zM88 354h1v1h-1zM1062 354h1v1h-1zM87 355h1v1h-1zM1063 355h1v2h-1zM85 356h2v1h-2zM84 357h1v1h-1zM1064 357h1v1h-1zM83 358h1v1h-1zM1065 358h1v2h-1zM82 359h1v1h-1zM81 360h1v1h-1zM1066 360h1v1h-1zM79 361h2v1h-2zM1067 361h1v1h-1zM78 362h1v1h-1zM1068 362h1v2h-1zM77 363h1v1h-1zM75 364h2v1h-2zM1069 364h1v1h-1zM73 365h2v1h-2zM1070 365h1v1h-1zM71 366h2v1h-2zM1071 366h1v1h-1zM68 367h3v1h-3zM1072 367h1v2h-1zM65 368h3v1h-3zM63 369h2v1h-2zM1073 369h1v1h-1zM60 370h3v1h-3zM1074 370h1v1h-1zM57 371h3v1h-3zM1075 371h1v1h-1zM53 372h4v1h-4zM1076 372h1v1h-1zM49 373h4v1h-4zM1077 373h2v1h-2zM45 374h4v1h-4zM1079 374h1v1h-1zM42 375h3v1h-3zM1080 375h1v1h-1zM40 376h2v1h-2zM1081 376h1v1h-1zM38 377h2v1h-2zM1082 377h1v1h-1zM36 378h2v1h-2zM1083 378h1v1h-1zM34 379h2v1h-2zM1084 379h1v1h-1zM32 380h2v1h-2zM1085 380h2v1h-2zM30 381h2v1h-2zM1087 381h1v1h-1zM28 382h2v1h-2zM1088 382h1v1h-1zM26 383h2v1h-2zM1089 383h1v1h-1zM25 384h1v1h-1zM1090 384h1v1h-1zM23 385h2v1h-2zM1091 385h1v1h-1zM22 386h1v1h-1zM1092 386h1v1h-1zM21 387h1v1h-1zM1093 387h2v1h-2zM19 388h2v1h-2zM1095 388h1v1h-1zM18 389h1v1h-1zM1096 389h1v1h-1zM16 390h2v1h-2zM1097 390h1v1h-1zM15 391h1v1h-1zM1098 391h5v1h-5zM13 392h2v1h-2zM1103 392h12v1h-12zM11 393h2v1h-2zM10 394h1v1h-1zM9 395h1v1h-1zM7 396h2v1h-2zM6 397h1v1h-1zM5 398h1v1h-1zM3 399h2v1h-2zM2 400h1v1h-1z" fill="#ffff00"/>
<path d="M737 93h3v1h-3zM735 94h2v1h-2zM740 94h2v1h-2zM732 95h3v1h-3zM742 95h2v1h-2zM730 96h2v1h-2zM744 96h2v1h-2zM728 97h2v1h-2zM746 97h1v1h-1zM726 98h2v1h-2zM747 98h2v1h-2zM724 99h2v1h-2zM749 99h2v1h-2zM721 100h3v1h-3zM751 100h1v1h-1zM717 101h4v1h-4zM752 101h2v1h-2zM714 102h3v1h-3zM754 102h1v1h-1zM712 103h2v1h-2zM755 103h2v1h-2zM710 104h2v1h-2zM757 104h1v1h-1zM708 105h2v1h-2zM758 105h1v1h-1zM706 106h2v1h-2zM759 106h2v1h-2zM705 107h1v1h-1zM761 107h1v1h-1zM704 108h1v1h-1zM762 108h1v1h-1zM703 109h1v1h-1zM763 109h1v1h-1zM702 110h1v1h-1zM764 110h1v1h-1zM701 111h1v1h-1zM765 111h1v1h-1zM700 112h1v1h-1zM766 112h1v2h-1zM699 113h1v1h-1zM698 114h1v1h-1zM767 114h1v1h-1zM697 115h1v1h-1zM768 115h1v1h-1zM696 116h1v1h-1zM769 116h1v1h-1zM695 117h1v1h-1zM770 117h1v1h-1zM694 118h1v2h-1zM771 118h1v1h-1zM772 119h1v1h-1zM693 120h1v1h-1zM773 120h2v1h-2zM692 121h1v1h-1zM775 121h1v1h-1zM691 122h1v1h-1zM776 122h1v1h-1zM690 123h1v1h-1zM777 123h1v1h-1zM689 124h1v1h-1zM778 124h1v1h-1zM688 125h1v2h-1zM779 125h1v1h-1zM780 126h1v1h-1zM687 127h1v1h-1zM781 127h2v1h-2zM686 128h1v1h-1zM783 128h1v1h-1zM685 129h1v1h-1zM784 129h1v1h-1zM684 130h1v2h-1zM785 130h1v1h-1zM786 131h1v1h-1zM683 132h1v1h-1zM787 132h2v1h-2zM682 133h1v1h-1zM789 133h1v1h-1zM681 134h1v1h-1zM790 134h1v1h-1zM680 135h1v2h-1zM791 135h2v1h-2zM793 136h1v1h-1zM679 137h1v1h-1zM794 137h2v1h-2zM678 138h1v1h-1zM796 138h2v1h-2zM677 139h1v1h-1zM798 139h2v1h-2zM676 140h1v2h-1zM800 140h2v1h-2zM802 141h1v1h-1zM675 142h1v1h-1zM803 142h1v1h-1zM674 143h1v1h-1zM804 143h1v1h-1zM673 144h1v2h-1zM805 144h2v1h-2zM807 145h1v1h-1zM672 146h1v1h-1zM808 146h1v1h-1zM671 147h1v2h-1zM809 147h1v1h-1zM810 148h1v1h-1zM670 149h1v1h-1zM811 149h2v1h-2zM669 150h1v2h-1zM813 150h1v1h-1zM814 151h1v1h-1zM668 152h1v1h-1zM815 152h2v1h-2zM667 153h1v2h-1zM817 153h1v1h-1zM818 154h3v1h-3zM666 155h1v1h-1zM821 155h4v1h-4zM665 156h1v2h-1zM825 156h2v1h-2zM827 157h2v1h-2zM664 158h1v1h-1zM829 158h1v1h-1zM663 159h1v1h-1zM830 159h1v1h-1zM662 160h1v2h-1zM831 160h2v1h-2zM833 161h1v1h-1zM661 162h1v1h-1zM834 162h1v1h-1zM660 163h1v1h-1zM835 163h1v2h-1zM659 164h1v2h-1zM836 165h1v1h-1zM658 166h1v1h-1zM837 166h1v1h-1zM657 167h1v2h-1zM838 167h1v2h-1zM656 169h1v1h-1zM839 169h1v1h-1zM655 170h1v2h-1zM840 170h1v1h-1zM841 171h1v2h-1zM654 172h1v1h-1zM653 173h1v2h-1zM842 173h1v1h-1zM843 174h1v2h-1zM652 175h1v1h-1zM651 176h1v2h-1zM844 176h1v1h-1zM845 177h1v2h-1zM650 178h1v1h-1zM649 179h1v2h-1zM846 179h1v1h-1zM847 180h1v2h-1zM648 181h1v2h-1zM848 182h1v1h-1zM647 183h1v2h-1zM849 183h1v2h-1zM646 185h1v1h-1zM850 185h1v1h-1zM645 186h1v2h-1zM851 186h1v1h-1zM852 187h1v1h-1zM644 188h1v2h-1zM853 188h1v1h-1zM854 189h1v2h-1zM643 190h1v2h-1zM855 191h1v1h-1zM642 192h1v1h-1zM856 192h1v1h-1zM641 193h1v2h-1zM857 193h1v1h-1zM858 194h1v1h-1zM640 195h1v2h-1zM859 195h2v1h-2zM861 196h2v1h-2zM639 197h1v1h-1zM863 197h1v1h-1zM638 198h1v2h-1zM864 198h2v1h-2zM866 199h2v1h-2zM637 200h1v1h-1zM868 200h3v1h-3zM636 201h1v2h-1zM871 201h2v1h-2zM879 201h12v1h-12zM873 202h6v1h-6zM891 202h2v1h-2zM635 203h1v2h-1zM893 203h2v1h-2zM895 204h1v1h-1zM634 205h1v1h-1zM896 205h2v1h-2zM633 206h1v2h-1zM898 206h1v1h-1zM899 207h1v1h-1zM632 208h1v2h-1zM900 208h1v1h-1zM901 209h2v1h-2zM631 210h1v1h-1zM903 210h1v1h-1zM630 211h1v2h-1zM904 211h1v1h-1zM905 212h1v1h-1zM629 213h1v1h-1zM906 213h1v1h-1zM628 214h1v2h-1zM907 214h1v2h-1zM627 216h1v2h-1zM908 216h1v1h-1zM909 217h1v1h-1zM626 218h1v1h-1zM910 218h1v2h-1zM625 219h1v2h-1zM911 220h1v1h-1zM624 221h1v1h-1zM912 221h1v1h-1zM623 222h1v1h-1zM913 222h1v2h-1zM622 223h1v2h-1zM914 224h1v1h-1zM621 225h1v1h-1zM915 225h1v2h-1zM393 226h10v1h-10zM620 226h1v1h-1zM389 227h4v1h-4zM403 227h2v1h-2zM619 227h1v2h-1zM916 227h1v2h-1zM385 228h4v1h-4zM405 228h2v1h-2zM381 229h4v1h-4zM407 229h1v1h-1zM618 229h1v1h-1zM917 229h1v2h-1zM377 230h4v1h-4zM408 230h2v1h-2zM617 230h1v2h-1zM373 231h4v1h-4zM410 231h1v1h-1zM918 231h1v1h-1zM369 232h4v1h-4zM411 232h1v1h-1zM616 232h1v1h-1zM919 232h1v2h-1zM365 233h4v1h-4zM412 233h1v1h-1zM615 233h1v2h-1zM361 234h4v1h-4zM413 234h1v1h-1zM920 234h1v2h-1zM357 235h4v1h-4zM414 235h1v1h-1zM614 235h1v1h-1zM354 236h3v1h-3zM415 236h1v1h-1zM613 236h1v2h-1zM921 236h1v2h-1zM352 237h2v1h-2zM416 237h1v1h-1zM223 238h6v1h-6zM351 238h1v1h-1zM417 238h1v1h-1zM612 238h1v1h-1zM922 238h1v1h-1zM217 239h6v1h-6zM229 239h4v1h-4zM349 239h2v1h-2zM418 239h1v1h-1zM611 239h1v2h-1zM923 239h1v1h-1zM213 240h4v1h-4zM233 240h6v1h-6zM347 240h2v1h-2zM419 240h1v1h-1zM924 240h1v1h-1zM209 241h4v1h-4zM239 241h24v1h-24zM346 241h1v1h-1zM420 241h1v1h-1zM610 241h1v1h-1zM925 241h1v1h-1zM207 242h2v1h-2zM263 242h2v1h-2zM345 242h1v1h-1zM421 242h1v1h-1zM609 242h1v1h-1zM926 242h1v1h-1zM204 243h3v1h-3zM265 243h1v1h-1zM344 243h1v1h-1zM422 243h1v1h-1zM608 243h1v1h-1zM927 243h1v1h-1zM202 244h2v1h-2zM266 244h1v1h-1zM343 244h1v1h-1zM423 244h1v1h-1zM607 244h1v1h-1zM928 244h1v1h-1zM201 245h1v1h-1zM267 245h2v1h-2zM342 245h1v1h-1zM424 245h1v1h-1zM606 245h1v2h-1zM929 245h1v1h-1zM200 246h1v1h-1zM269 246h2v1h-2zM341 246h1v1h-1zM425 246h1v1h-1zM930 246h1v1h-1zM199 247h1v1h-1zM271 247h1v1h-1zM340 247h1v1h-1zM426 247h1v1h-1zM605 247h1v1h-1zM931 247h1v2h-1zM198 248h1v1h-1zM272 248h2v1h-2zM339 248h1v1h-1zM427 248h1v1h-1zM604 248h1v1h-1zM197 249h1v1h-1zM274 249h1v1h-1zM338 249h1v1h-1zM428 249h1v2h-1zM603 249h1v1h-1zM932 249h1v2h-1zM196 250h1v1h-1zM275 250h1v1h-1zM336 250h2v1h-2zM602 250h1v1h-1zM195 251h1v1h-1zM276 251h1v1h-1zM334 251h2v1h-2zM429 251h1v1h-1zM601 251h1v1h-1zM933 251h1v2h-1zM194 252h1v1h-1zM277 252h2v1h-2zM332 252h2v1h-2zM430 252h1v1h-1zM600 252h1v1h-1zM193 253h1v1h-1zM279 253h1v1h-1zM330 253h2v1h-2zM431 253h1v1h-1zM599 253h1v1h-1zM934 253h1v1h-1zM192 254h1v1h-1zM280 254h1v1h-1zM328 254h2v1h-2zM432 254h1v2h-1zM598 254h1v2h-1zM935 254h1v2h-1zM191 255h1v1h-1zM281 255h1v1h-1zM326 255h2v1h-2zM190 256h1v1h-1zM282 256h2v1h-2zM324 256h2v1h-2zM433 256h1v1h-1zM597 256h1v1h-1zM936 256h1v2h-1zM189 257h1v1h-1zM284 257h2v1h-2zM322 257h2v1h-2zM434 257h1v1h-1zM596 257h1v1h-1zM188 258h1v1h-1zM286 258h2v1h-2zM321 258h1v1h-1zM435 258h1v1h-1zM595 258h1v1h-1zM937 258h1v2h-1zM187 259h1v1h-1zM288 259h2v1h-2zM319 259h2v1h-2zM436 259h1v1h-1zM594 259h1v1h-1zM186 260h1v1h-1zM290 260h2v1h-2zM318 260h1v1h-1zM437 260h1v1h-1zM593 260h1v1h-1zM938 260h1v1h-1zM185 261h1v1h-1zM292 261h3v1h-3zM317 261h1v1h-1zM438 261h1v2h-1zM592 261h1v1h-1zM939 261h1v2h-1zM184 262h1v1h-1zM295 262h2v1h-2zM315 262h2v1h-2zM591 262h1v1h-1zM183 263h1v1h-1zM297 263h6v1h-6zM311 263h4v1h-4zM439 263h1v1h-1zM590 263h1v1h-1zM940 263h1v2h-1zM181 264h2v1h-2zM303 264h8v1h-8zM440 264h1v1h-1zM589 264h1v1h-1zM180 265h1v1h-1zM441 265h1v1h-1zM588 265h1v1h-1zM941 265h1v2h-1zM179 266h1v1h-1zM442 266h1v1h-1zM587 266h1v1h-1zM178 267h1v1h-1zM443 267h1v1h-1zM586 267h1v1h-1zM942 267h1v2h-1zM177 268h1v1h-1zM444 268h1v1h-1zM584 268h2v1h-2zM176 269h1v1h-1zM445 269h1v1h-1zM582 269h2v1h-2zM943 269h1v2h-1zM175 270h1v1h-1zM446 270h1v2h-1zM580 270h2v1h-2zM173 271h2v1h-2zM578 271h2v1h-2zM944 271h1v2h-1zM172 272h1v1h-1zM447 272h1v1h-1zM576 272h2v1h-2zM171 273h1v1h-1zM448 273h1v1h-1zM575 273h1v1h-1zM945 273h1v2h-1zM170 274h1v1h-1zM449 274h1v1h-1zM573 274h2v1h-2zM169 275h1v1h-1zM450 275h1v1h-1zM571 275h2v1h-2zM946 275h1v1h-1zM168 276h1v2h-1zM451 276h1v1h-1zM570 276h1v1h-1zM947 276h1v1h-1zM452 277h1v2h-1zM569 277h1v1h-1zM948 277h1v1h-1zM167 278h1v1h-1zM567 278h2v1h-2zM949 278h1v1h-1zM166 279h1v1h-1zM453 279h1v1h-1zM566 279h1v1h-1zM950 279h1v2h-1zM165 280h1v1h-1zM454 280h1v1h-1zM565 280h1v1h-1zM164 281h1v2h-1zM455 281h1v1h-1zM563 281h2v1h-2zM951 281h1v1h-1zM456 282h1v2h-1zM562 282h1v1h-1zM952 282h1v1h-1zM163 283h1v1h-1zM561 283h1v1h-1zM953 283h1v1h-1zM162 284h1v1h-1zM457 284h1v1h-1zM559 284h2v1h-2zM954 284h1v1h-1zM161 285h1v1h-1zM458 285h1v1h-1zM558 285h1v1h-1zM955 285h1v1h-1zM160 286h1v2h-1zM459 286h1v1h-1zM557 286h1v1h-1zM956 286h1v1h-1zM460 287h1v1h-1zM555 287h2v1h-2zM957 287h1v1h-1zM159 288h1v1h-1zM461 288h2v1h-2zM554 288h1v1h-1zM958 288h1v1h-1zM158 289h1v1h-1zM463 289h1v1h-1zM553 289h1v1h-1zM959 289h1v1h-1zM157 290h1v1h-1zM464 290h1v1h-1zM551 290h2v1h-2zM960 290h1v1h-1zM156 291h1v2h-1zM465 291h1v1h-1zM550 291h1v1h-1zM961 291h1v1h-1zM466 292h1v1h-1zM549 292h1v1h-1zM962 292h1v1h-1zM155 293h1v1h-1zM467 293h2v1h-2zM547 293h2v1h-2zM963 293h2v1h-2zM154 294h1v1h-1zM469 294h1v1h-1zM545 294h2v1h-2zM965 294h2v1h-2zM152 295h2v1h-2zM470 295h1v1h-1zM543 295h2v1h-2zM967 295h1v1h-1zM151 296h1v1h-1zM471 296h2v1h-2zM540 296h3v1h-3zM968 296h2v1h-2zM149 297h2v1h-2zM473 297h1v1h-1zM538 297h2v1h-2zM970 297h1v1h-1zM147 298h2v1h-2zM474 298h1v1h-1zM536 298h2v1h-2zM971 298h1v1h-1zM145 299h2v1h-2zM475 299h1v1h-1zM534 299h2v1h-2zM972 299h1v1h-1zM141 300h4v1h-4zM476 300h1v1h-1zM532 300h2v1h-2zM973 300h2v1h-2zM138 301h3v1h-3zM477 301h2v1h-2zM530 301h2v1h-2zM975 301h1v1h-1zM136 302h2v1h-2zM479 302h1v1h-1zM528 302h2v1h-2zM976 302h1v1h-1zM134 303h2v1h-2zM480 303h1v1h-1zM527 303h1v1h-1zM977 303h1v1h-1zM132 304h2v1h-2zM481 304h1v1h-1zM525 304h2v1h-2zM978 304h1v1h-1zM130 305h2v1h-2zM482 305h3v1h-3zM523 305h2v1h-2zM979 305h1v1h-1zM128 306h2v1h-2zM485 306h4v1h-4zM522 306h1v1h-1zM980 306h1v1h-1zM126 307h2v1h-2zM489 307h3v1h-3zM520 307h2v1h-2zM981 307h1v1h-1zM124 308h2v1h-2zM492 308h3v1h-3zM519 308h1v1h-1zM982 308h1v1h-1zM121 309h3v1h-3zM495 309h2v1h-2zM517 309h2v1h-2zM983 309h1v1h-1zM119 310h2v1h-2zM497 310h4v1h-4zM515 310h2v1h-2zM984 310h1v1h-1zM116 311h3v1h-3zM501 311h4v1h-4zM511 311h4v1h-4zM985 311h1v1h-1zM113 312h3v1h-3zM505 312h6v1h-6zM986 312h1v1h-1zM109 313h4v1h-4zM987 313h2v1h-2zM105 314h4v1h-4zM989 314h1v1h-1zM101 315h4v1h-4zM990 315h1v1h-1zM97 316h4v1h-4zM991 316h2v1h-2zM93 317h4v1h-4zM993 317h1v1h-1zM89 318h4v1h-4zM994 318h1v1h-1zM87 319h2v1h-2zM995 319h2v1h-2zM84 320h3v1h-3zM997 320h2v1h-2zM82 321h2v1h-2zM999 321h1v1h-1zM80 322h2v1h-2zM1000 322h2v1h-2zM78 323h2v1h-2zM1002 323h5v1h-5zM1015 323h12v1h-12zM76 324h2v1h-2zM1007 324h8v1h-8zM1027 324h1v1h-1zM74 325h2v1h-2zM1028 325h1v1h-1zM73 326h1v1h-1zM1029 326h1v1h-1zM72 327h1v1h-1zM1030 327h1v1h-1zM71 328h1v1h-1zM1031 328h1v1h-1zM70 329h1v2h-1zM1032 329h1v1h-1zM1033 330h1v1h-1zM69 331h1v1h-1zM1034 331h1v1h-1zM68 332h1v1h-1zM1035 332h1v2h-1zM67 333h1v1h-1zM66 334h1v1h-1zM1036 334h1v1h-1zM65 335h1v1h-1zM1037 335h1v1h-1zM63 336h2v1h-2zM1038 336h1v2h-1zM62 337h1v1h-1zM61 338h1v1h-1zM1039 338h1v1h-1zM59 339h2v1h-2zM1040 339h1v1h-1zM58 340h1v1h-1zM1041 340h1v2h-1zM56 341h2v1h-2zM55 342h1v1h-1zM1042 342h1v1h-1zM53 343h2v1h-2zM1043 343h1v1h-1zM51 344h2v1h-2zM1044 344h1v2h-1zM50 345h1v1h-1zM49 346h1v1h-1zM1045 346h1v1h-1zM47 347h2v1h-2zM1046 347h1v1h-1zM46 348h1v1h-1zM1047 348h1v1h-1zM45 349h1v1h-1zM1048 349h1v2h-1zM43 350h2v1h-2zM42 351h1v1h-1zM1049 351h1v1h-1zM41 352h1v1h-1zM1050 352h1v1h-1zM40 353h1v2h-1zM1051 353h1v1h-1zM1052 354h1v2h-1zM39 355h1v1h-1zM38 356h1v1h-1zM1053 356h1v1h-1zM37 357h1v1h-1zM1054 357h1v1h-1zM36 358h1v2h-1zM1055 358h1v1h-1zM1056 359h1v2h-1zM35 360h1v1h-1zM34 361h1v1h-1zM1057 361h1v1h-1zM33 362h1v1h-1zM1058 362h1v1h-1zM32 363h1v2h-1zM1059 363h1v1h-1zM1060 364h1v1h-1zM31 365h1v1h-1zM1061 365h1v1h-1zM30 366h1v1h-1zM1062 366h1v2h-1zM29 367h1v1h-1zM28 368h1v2h-1zM1063 368h1v1h-1zM1064 369h1v1h-1zM27 370h1v1h-1zM1065 370h1v1h-1zM26 371h1v1h-1zM1066 371h1v1h-1zM25 372h1v2h-1zM1067 372h1v1h-1zM1068 373h1v1h-1zM24 374h1v1h-1zM1069 374h1v1h-1zM23 375h1v1h-1zM1070 375h1v2h-1zM22 376h1v2h-1zM1071 377h1v1h-1zM21 378h1v1h-1zM1072 378h1v1h-1zM20 379h1v1h-1zM1073 379h1v1h-1zM19 380h1v2h-1zM1074 380h1v1h-1zM1075 381h1v1h-1zM18 382h1v1h-1zM1076 382h1v1h-1zM17 383h1v1h-1zM1077 383h1v1h-1zM16 384h1v1h-1zM1078 384h1v2h-1zM15 385h1v1h-1zM14 386h1v1h-1zM1079 386h1v1h-1zM13 387h1v1h-1zM1080 387h1v1h-1zM12 388h1v1h-1zM1081 388h1v1h-1zM11 389h1v1h-1zM1082 389h1v1h-1zM10 390h1v1h-1zM1083 390h1v2h-1zM9 391h1v1h-1zM8 392h1v1h-1zM1084 392h1v2h-1zM7 393h1v1h-1zM6 394h1v1h-1zM1085 394h1v2h-1zM5 395h1v1h-1zM4 396h1v1h-1zM1086 396h1v2h-1zM3 397h1v1h-1zM2 398h1v1h-1zM1087 398h1v2h-1zM1088 400h1v2h-1zM1089 402h1v2h-1zM1090 404h1v1h-1zM1091 405h1v1h-1zM1092 406h1v1h-1zM1093 407h1v1h-1zM1094 408h1v2h-1zM1095 410h1v1h-1zM1096 411h1v1h-1zM1097 412h1v1h-1zM1098 413h1v1h-1zM1099 414h2v1h-2zM1101 415h1v1h-1zM1102 416h1v1h-1zM1103 417h2v1h-2zM1105 418h1v1h-1zM1106 419h1v1h-1zM1107 420h1v1h-1zM1108 421h1v1h-1zM1109 422h1v1h-1zM1110 423h1v1h-1zM1111 424h1v1h-1zM1112 425h1v1h-1zM1113 426h1v1h-1zM1114 427h1v1h-1z" fill="#ff0000"/>
<path d="M682 88h3v1h-3zM680 89h2v1h-2zM685 89h4v1h-4zM679 90h1v1h-1zM689 90h4v1h-4zM677 91h2v1h-2zM693 91h4v1h-4zM675 92h2v1h-2zM697 92h3v1h-3zM674 93h1v1h-1zM700 93h2v1h-2zM672 94h2v1h-2zM702 94h2v1h-2zM671 95h1v1h-1zM704 95h2v1h-2zM669 96h2v1h-2zM706 96h2v1h-2zM667 97h2v1h-2zM708 97h2v1h-2zM666 98h1v1h-1zM710 98h2v1h-2zM665 99h1v1h-1zM712 99h2v1h-2zM737 99h3v1h-3zM663 100h2v1h-2zM714 100h5v1h-5zM733 100h4v1h-4zM740 100h2v1h-2zM662 101h1v1h-1zM719 101h14v1h-14zM742 101h2v1h-2zM661 102h1v1h-1zM744 102h2v1h-2zM659 103h2v1h-2zM746 103h1v1h-1zM658 104h1v1h-1zM747 104h1v1h-1zM657 105h1v1h-1zM748 105h1v2h-1zM656 106h1v2h-1zM749 107h1v1h-1zM655 108h1v1h-1zM750 108h1v1h-1zM654 109h1v1h-1zM751 109h1v1h-1zM653 110h1v1h-1zM752 110h1v2h-1zM652 111h1v2h-1zM753 112h1v1h-1zM651 113h1v1h-1zM754 113h1v1h-1zM650 114h1v1h-1zM755 114h1v1h-1zM649 115h1v2h-1zM756 115h1v1h-1zM757 116h1v1h-1zM648 117h1v2h-1zM758 117h1v1h-1zM759 118h1v1h-1zM647 119h1v2h-1zM760 119h1v1h-1zM761 120h1v1h-1zM646 121h1v2h-1zM762 121h1v1h-1zM763 122h1v2h-1zM645 123h1v2h-1zM764 124h1v2h-1zM644 125h1v2h-1zM765 126h1v1h-1zM643 127h1v2h-1zM766 127h1v2h-1zM642 129h1v2h-1zM767 129h1v1h-1zM768 130h1v2h-1zM641 131h1v3h-1zM769 132h1v2h-1zM640 134h1v3h-1zM770 134h1v1h-1zM771 135h1v2h-1zM639 137h1v3h-1zM772 137h1v1h-1zM773 138h1v2h-1zM638 140h1v4h-1zM774 140h1v1h-1zM775 141h1v2h-1zM776 143h1v1h-1zM637 144h1v3h-1zM777 144h1v2h-1zM778 146h1v1h-1zM636 147h1v3h-1zM779 147h1v2h-1zM780 149h1v2h-1zM635 150h1v3h-1zM781 151h1v2h-1zM634 153h1v3h-1zM782 153h1v2h-1zM783 155h1v2h-1zM633 156h1v3h-1zM784 157h1v2h-1zM632 159h1v2h-1zM785 159h1v2h-1zM631 161h1v3h-1zM786 161h1v1h-1zM787 162h1v2h-1zM630 164h1v3h-1zM788 164h1v2h-1zM789 166h1v1h-1zM629 167h1v3h-1zM790 167h1v2h-1zM791 169h1v1h-1zM628 170h1v2h-1zM792 170h1v2h-1zM627 172h1v3h-1zM793 172h1v2h-1zM794 174h1v1h-1zM626 175h1v2h-1zM795 175h1v1h-1zM796 176h1v1h-1zM625 177h1v2h-1zM797 177h2v1h-2zM799 178h1v1h-1zM826 178h9v1h-9zM624 179h1v2h-1zM800 179h1v1h-1zM825 179h1v1h-1zM835 179h2v1h-2zM801 180h1v1h-1zM824 180h1v1h-1zM837 180h1v1h-1zM623 181h1v2h-1zM802 181h2v1h-2zM823 181h1v1h-1zM838 181h1v1h-1zM804 182h3v1h-3zM822 182h1v1h-1zM839 182h2v1h-2zM622 183h1v2h-1zM807 183h2v1h-2zM821 183h1v1h-1zM841 183h1v1h-1zM809 184h4v1h-4zM820 184h1v1h-1zM842 184h1v1h-1zM621 185h1v2h-1zM813 185h4v1h-4zM819 185h1v1h-1zM843 185h1v2h-1zM817 186h2v1h-2zM620 187h1v2h-1zM844 187h1v1h-1zM845 188h1v1h-1zM619 189h1v2h-1zM846 189h1v2h-1zM618 191h1v2h-1zM847 191h1v1h-1zM848 192h1v1h-1zM617 193h1v2h-1zM849 193h1v2h-1zM616 195h1v2h-1zM850 195h1v1h-1zM851 196h1v2h-1zM615 197h1v2h-1zM354 198h3v1h-3zM852 198h1v2h-1zM353 199h1v2h-1zM357 199h4v1h-4zM614 199h1v2h-1zM361 200h6v1h-6zM853 200h1v2h-1zM352 201h1v1h-1zM367 201h4v1h-4zM613 201h1v2h-1zM351 202h1v1h-1zM371 202h1v2h-1zM854 202h1v1h-1zM350 203h1v2h-1zM612 203h1v2h-1zM855 203h1v2h-1zM372 204h1v1h-1zM349 205h1v1h-1zM373 205h1v1h-1zM611 205h1v2h-1zM856 205h1v2h-1zM348 206h1v1h-1zM374 206h1v2h-1zM347 207h1v2h-1zM610 207h1v3h-1zM857 207h1v2h-1zM375 208h1v1h-1zM346 209h1v2h-1zM376 209h1v1h-1zM858 209h1v1h-1zM377 210h1v2h-1zM609 210h1v2h-1zM859 210h1v1h-1zM345 211h1v2h-1zM860 211h1v1h-1zM378 212h1v1h-1zM608 212h1v2h-1zM861 212h2v1h-2zM344 213h1v2h-1zM379 213h2v1h-2zM863 213h1v1h-1zM381 214h1v1h-1zM607 214h1v2h-1zM864 214h1v1h-1zM343 215h1v2h-1zM382 215h1v1h-1zM865 215h1v1h-1zM383 216h2v1h-2zM606 216h1v2h-1zM866 216h3v1h-3zM342 217h1v3h-1zM385 217h1v1h-1zM869 217h4v1h-4zM202 218h2v1h-2zM386 218h1v1h-1zM605 218h1v2h-1zM873 218h3v1h-3zM201 219h1v1h-1zM204 219h2v1h-2zM387 219h1v1h-1zM876 219h2v1h-2zM199 220h2v1h-2zM206 220h2v1h-2zM341 220h1v2h-1zM388 220h1v1h-1zM604 220h1v2h-1zM878 220h2v1h-2zM198 221h1v1h-1zM208 221h2v1h-2zM389 221h1v1h-1zM880 221h2v1h-2zM197 222h1v1h-1zM210 222h1v1h-1zM340 222h1v2h-1zM390 222h1v2h-1zM603 222h1v2h-1zM882 222h2v1h-2zM195 223h2v1h-2zM211 223h1v1h-1zM884 223h2v1h-2zM194 224h1v1h-1zM212 224h1v1h-1zM339 224h1v2h-1zM391 224h1v1h-1zM602 224h1v2h-1zM886 224h2v1h-2zM193 225h1v1h-1zM213 225h2v1h-2zM392 225h1v1h-1zM888 225h2v1h-2zM191 226h2v1h-2zM215 226h1v1h-1zM338 226h1v2h-1zM393 226h1v1h-1zM601 226h1v2h-1zM890 226h3v1h-3zM190 227h1v1h-1zM216 227h1v1h-1zM394 227h1v1h-1zM893 227h4v1h-4zM189 228h1v1h-1zM217 228h1v1h-1zM337 228h1v2h-1zM395 228h1v2h-1zM600 228h1v2h-1zM897 228h4v1h-4zM187 229h2v1h-2zM218 229h1v1h-1zM901 229h4v1h-4zM186 230h1v1h-1zM219 230h1v1h-1zM336 230h1v1h-1zM396 230h1v2h-1zM599 230h1v2h-1zM905 230h2v1h-2zM184 231h2v1h-2zM220 231h1v1h-1zM335 231h1v1h-1zM907 231h1v2h-1zM182 232h2v1h-2zM221 232h1v1h-1zM334 232h1v2h-1zM397 232h1v2h-1zM598 232h1v2h-1zM180 233h2v1h-2zM222 233h1v2h-1zM908 233h1v1h-1zM178 234h2v1h-2zM333 234h1v1h-1zM398 234h1v2h-1zM597 234h1v2h-1zM909 234h1v2h-1zM176 235h2v1h-2zM223 235h1v1h-1zM332 235h1v1h-1zM174 236h2v1h-2zM224 236h1v1h-1zM331 236h1v2h-1zM399 236h1v2h-1zM596 236h1v2h-1zM910 236h1v1h-1zM172 237h2v1h-2zM225 237h1v1h-1zM911 237h1v2h-1zM170 238h2v1h-2zM226 238h1v1h-1zM330 238h1v1h-1zM400 238h1v2h-1zM595 238h1v2h-1zM169 239h1v2h-1zM227 239h1v1h-1zM329 239h1v2h-1zM912 239h1v1h-1zM228 240h1v1h-1zM401 240h1v2h-1zM594 240h1v1h-1zM913 240h1v2h-1zM168 241h1v1h-1zM229 241h1v1h-1zM328 241h1v1h-1zM593 241h1v2h-1zM167 242h1v2h-1zM230 242h1v1h-1zM327 242h1v1h-1zM402 242h1v2h-1zM914 242h1v2h-1zM231 243h1v1h-1zM326 243h1v2h-1zM592 243h1v1h-1zM166 244h1v1h-1zM232 244h1v1h-1zM403 244h1v3h-1zM591 244h1v1h-1zM915 244h1v2h-1zM165 245h1v2h-1zM233 245h1v1h-1zM325 245h1v1h-1zM590 245h1v2h-1zM234 246h1v1h-1zM324 246h1v1h-1zM916 246h1v2h-1zM164 247h1v1h-1zM235 247h2v1h-2zM323 247h1v2h-1zM404 247h1v2h-1zM589 247h1v1h-1zM163 248h1v2h-1zM237 248h1v1h-1zM588 248h1v1h-1zM917 248h1v2h-1zM238 249h1v1h-1zM322 249h1v1h-1zM405 249h1v3h-1zM587 249h1v2h-1zM162 250h1v1h-1zM239 250h2v1h-2zM321 250h1v2h-1zM918 250h1v2h-1zM161 251h1v1h-1zM241 251h1v1h-1zM586 251h1v1h-1zM160 252h1v2h-1zM242 252h1v1h-1zM320 252h1v2h-1zM406 252h1v3h-1zM584 252h2v1h-2zM919 252h1v2h-1zM243 253h2v1h-2zM582 253h2v1h-2zM159 254h1v1h-1zM245 254h1v1h-1zM319 254h1v2h-1zM580 254h2v1h-2zM920 254h1v2h-1zM158 255h1v1h-1zM246 255h1v1h-1zM407 255h1v3h-1zM578 255h2v1h-2zM157 256h1v1h-1zM247 256h2v1h-2zM318 256h1v1h-1zM576 256h2v1h-2zM921 256h1v2h-1zM156 257h1v2h-1zM249 257h1v1h-1zM317 257h1v2h-1zM574 257h2v1h-2zM250 258h1v1h-1zM408 258h1v2h-1zM572 258h2v1h-2zM922 258h1v2h-1zM155 259h1v1h-1zM251 259h2v1h-2zM316 259h1v2h-1zM569 259h3v1h-3zM154 260h1v1h-1zM253 260h1v1h-1zM409 260h1v3h-1zM567 260h2v1h-2zM923 260h1v2h-1zM153 261h1v2h-1zM254 261h1v1h-1zM315 261h1v2h-1zM564 261h3v1h-3zM255 262h2v1h-2zM562 262h2v1h-2zM924 262h1v2h-1zM152 263h1v1h-1zM257 263h1v1h-1zM314 263h1v1h-1zM410 263h1v3h-1zM561 263h1v1h-1zM151 264h1v1h-1zM258 264h5v1h-5zM312 264h2v1h-2zM560 264h1v1h-1zM925 264h1v2h-1zM150 265h1v2h-1zM263 265h5v1h-5zM311 265h1v1h-1zM559 265h1v1h-1zM268 266h2v1h-2zM309 266h2v1h-2zM411 266h1v2h-1zM558 266h1v1h-1zM926 266h1v3h-1zM149 267h1v1h-1zM270 267h2v1h-2zM307 267h2v1h-2zM557 267h1v1h-1zM148 268h1v1h-1zM272 268h2v1h-2zM306 268h1v1h-1zM412 268h1v2h-1zM556 268h1v1h-1zM147 269h1v2h-1zM274 269h2v1h-2zM305 269h1v1h-1zM555 269h1v1h-1zM927 269h1v2h-1zM276 270h3v1h-3zM303 270h2v1h-2zM413 270h1v2h-1zM554 270h1v1h-1zM146 271h1v1h-1zM279 271h2v1h-2zM302 271h1v1h-1zM552 271h2v1h-2zM928 271h1v2h-1zM145 272h1v1h-1zM281 272h6v1h-6zM301 272h1v1h-1zM414 272h1v2h-1zM551 272h1v1h-1zM144 273h1v1h-1zM287 273h8v1h-8zM299 273h2v1h-2zM549 273h2v1h-2zM929 273h1v2h-1zM143 274h1v1h-1zM295 274h4v1h-4zM415 274h1v2h-1zM547 274h2v1h-2zM141 275h2v1h-2zM543 275h4v1h-4zM930 275h1v3h-1zM140 276h1v1h-1zM416 276h1v2h-1zM538 276h5v1h-5zM139 277h1v1h-1zM537 277h1v1h-1zM138 278h1v1h-1zM417 278h1v2h-1zM535 278h2v1h-2zM931 278h1v2h-1zM137 279h1v1h-1zM534 279h1v1h-1zM136 280h1v1h-1zM418 280h1v1h-1zM533 280h1v1h-1zM932 280h1v3h-1zM135 281h1v1h-1zM419 281h1v2h-1zM531 281h2v1h-2zM133 282h2v1h-2zM530 282h1v1h-1zM132 283h1v1h-1zM420 283h1v1h-1zM528 283h2v1h-2zM933 283h1v3h-1zM131 284h1v1h-1zM421 284h1v1h-1zM526 284h2v1h-2zM130 285h1v1h-1zM422 285h1v2h-1zM524 285h2v1h-2zM129 286h1v1h-1zM522 286h2v1h-2zM934 286h1v2h-1zM128 287h1v2h-1zM423 287h1v1h-1zM521 287h1v1h-1zM424 288h1v1h-1zM520 288h1v1h-1zM935 288h1v3h-1zM127 289h1v1h-1zM425 289h1v2h-1zM519 289h1v1h-1zM126 290h1v1h-1zM517 290h2v1h-2zM125 291h1v1h-1zM426 291h1v1h-1zM516 291h1v1h-1zM936 291h1v3h-1zM124 292h1v2h-1zM427 292h1v2h-1zM515 292h1v1h-1zM514 293h1v1h-1zM123 294h1v1h-1zM428 294h1v1h-1zM513 294h1v1h-1zM937 294h1v2h-1zM122 295h1v1h-1zM429 295h1v1h-1zM512 295h1v1h-1zM1023 295h4v1h-4zM121 296h1v2h-1zM430 296h1v2h-1zM511 296h1v1h-1zM938 296h1v3h-1zM1018 296h5v1h-5zM1026 296h1v1h-1zM509 297h2v1h-2zM1017 297h1v2h-1zM1027 297h1v2h-1zM120 298h1v1h-1zM431 298h1v1h-1zM508 298h1v1h-1zM119 299h1v1h-1zM432 299h1v1h-1zM507 299h1v1h-1zM939 299h1v3h-1zM1016 299h1v2h-1zM1028 299h1v2h-1zM118 300h1v2h-1zM433 300h1v2h-1zM506 300h1v1h-1zM504 301h2v1h-2zM1015 301h1v2h-1zM1029 301h1v2h-1zM117 302h1v1h-1zM434 302h1v1h-1zM502 302h2v1h-2zM940 302h1v3h-1zM116 303h1v1h-1zM435 303h1v2h-1zM500 303h2v1h-2zM1014 303h1v2h-1zM1030 303h1v2h-1zM115 304h1v2h-1zM498 304h2v1h-2zM436 305h1v1h-1zM497 305h1v1h-1zM941 305h1v3h-1zM1013 305h1v2h-1zM1031 305h1v2h-1zM114 306h1v1h-1zM437 306h1v2h-1zM496 306h1v1h-1zM113 307h1v1h-1zM495 307h1v1h-1zM1012 307h1v2h-1zM1032 307h1v2h-1zM34 308h5v1h-5zM112 308h1v2h-1zM438 308h1v1h-1zM494 308h1v2h-1zM942 308h1v4h-1zM33 309h1v1h-1zM39 309h5v1h-5zM439 309h1v2h-1zM1011 309h1v2h-1zM1033 309h1v2h-1zM32 310h1v1h-1zM44 310h3v1h-3zM111 310h1v1h-1zM493 310h1v1h-1zM31 311h1v1h-1zM47 311h2v1h-2zM110 311h1v1h-1zM440 311h1v1h-1zM492 311h1v1h-1zM1010 311h1v1h-1zM1034 311h1v3h-1zM29 312h2v1h-2zM49 312h2v1h-2zM109 312h1v1h-1zM441 312h1v2h-1zM491 312h1v1h-1zM943 312h1v3h-1zM1009 312h1v2h-1zM28 313h1v1h-1zM51 313h2v1h-2zM108 313h1v2h-1zM490 313h1v1h-1zM27 314h1v1h-1zM53 314h2v1h-2zM442 314h1v1h-1zM489 314h1v1h-1zM1008 314h1v1h-1zM1035 314h1v3h-1zM26 315h1v1h-1zM55 315h1v1h-1zM107 315h1v1h-1zM443 315h1v2h-1zM487 315h2v1h-2zM944 315h1v3h-1zM1007 315h1v1h-1zM25 316h1v1h-1zM56 316h2v1h-2zM106 316h1v1h-1zM486 316h1v1h-1zM1006 316h1v2h-1zM24 317h1v1h-1zM58 317h2v1h-2zM105 317h1v1h-1zM444 317h1v1h-1zM485 317h1v1h-1zM1036 317h1v2h-1zM23 318h1v1h-1zM60 318h2v1h-2zM104 318h1v1h-1zM445 318h1v1h-1zM483 318h2v1h-2zM945 318h1v3h-1zM1005 318h1v1h-1zM22 319h1v2h-1zM62 319h2v1h-2zM103 319h1v1h-1zM446 319h1v2h-1zM481 319h2v1h-2zM1004 319h1v1h-1zM1037 319h1v3h-1zM64 320h2v1h-2zM102 320h1v1h-1zM477 320h4v1h-4zM1003 320h1v2h-1zM21 321h1v1h-1zM66 321h2v1h-2zM101 321h1v1h-1zM447 321h1v1h-1zM474 321h3v1h-3zM946 321h1v3h-1zM20 322h1v1h-1zM68 322h2v1h-2zM100 322h1v1h-1zM448 322h1v1h-1zM472 322h2v1h-2zM1002 322h1v1h-1zM1038 322h1v3h-1zM19 323h1v1h-1zM70 323h2v1h-2zM99 323h1v1h-1zM449 323h1v2h-1zM470 323h2v1h-2zM1001 323h1v2h-1zM18 324h1v2h-1zM72 324h2v1h-2zM98 324h1v1h-1zM468 324h2v1h-2zM947 324h1v2h-1zM74 325h5v1h-5zM96 325h2v1h-2zM450 325h1v1h-1zM466 325h2v1h-2zM1000 325h1v2h-1zM1039 325h1v3h-1zM17 326h1v2h-1zM79 326h6v1h-6zM94 326h2v1h-2zM451 326h2v1h-2zM464 326h2v1h-2zM948 326h1v2h-1zM85 327h4v1h-4zM92 327h2v1h-2zM453 327h2v1h-2zM463 327h1v1h-1zM999 327h1v2h-1zM16 328h1v3h-1zM89 328h3v1h-3zM455 328h1v1h-1zM461 328h2v1h-2zM949 328h1v2h-1zM1040 328h1v2h-1zM456 329h2v1h-2zM459 329h2v1h-2zM998 329h1v2h-1zM458 330h1v1h-1zM950 330h1v2h-1zM1041 330h1v3h-1zM15 331h1v2h-1zM997 331h1v2h-1zM951 332h1v2h-1zM14 333h1v3h-1zM996 333h1v2h-1zM1042 333h1v4h-1zM952 334h1v2h-1zM995 335h1v2h-1zM13 336h1v2h-1zM953 336h1v2h-1zM994 337h1v2h-1zM1043 337h1v4h-1zM12 338h1v3h-1zM954 338h1v1h-1zM955 339h1v2h-1zM993 339h1v1h-1zM992 340h1v2h-1zM11 341h1v2h-1zM956 341h1v2h-1zM1044 341h1v4h-1zM991 342h1v1h-1zM10 343h1v3h-1zM957 343h1v1h-1zM990 343h1v1h-1zM958 344h1v2h-1zM989 344h1v1h-1zM988 345h1v2h-1zM1045 345h1v4h-1zM9 346h1v2h-1zM959 346h1v1h-1zM960 347h1v2h-1zM987 347h1v1h-1zM8 348h1v2h-1zM977 348h10v1h-10zM961 349h1v2h-1zM975 349h2v1h-2zM1046 349h1v4h-1zM7 350h1v3h-1zM972 350h3v1h-3zM962 351h10v1h-10zM6 353h1v2h-1zM1047 353h1v4h-1zM5 355h1v3h-1zM1048 357h1v4h-1zM4 358h1v2h-1zM3 360h1v2h-1zM1049 361h1v4h-1zM2 362h1v2h-1zM1050 365h1v5h-1zM1051 370h1v4h-1zM1052 374h1v4h-1zM1053 378h1v5h-1zM1054 383h1v4h-1zM1055 387h1v5h-1zM1056 392h1v4h-1zM1057 396h1v4h-1zM1058 400h1v4h-1zM1059 404h1v4h-1zM1060 408h1v4h-1zM1061 412h1v4h-1zM1062 416h1v3h-1zM1063 419h1v4h-1zM1064 423h1v4h-1zM1065 427h1v4h-1zM1066 431h1v3h-1zM1067 434h1v4h-1zM1068 438h1v4h-1zM1069 442h1v3h-1zM1070 445h1v4h-1zM1071 449h1v3h-1zM1072 452h1v4h-1zM1114 454h1v2h-1zM1073 456h1v4h-1zM1113 456h1v2h-1zM1112 458h1v2h-1zM1074 460h1v3h-1zM1111 460h1v2h-1zM1110 462h1v2h-1zM1075 463h1v3h-1zM1109 464h1v2h-1zM1076 466h1v3h-1zM1108 466h1v2h-1zM1107 468h1v2h-1zM1077 469h1v3h-1zM1106 470h1v3h-1zM1078 472h1v2h-1zM1105 473h1v2h-1zM1079 474h1v3h-1zM1104 475h1v2h-1zM1080 477h1v3h-1zM1103 477h1v2h-1zM1102 479h1v2h-1zM1081 480h1v3h-1zM1101 481h1v2h-1zM1082 483h1v2h-1zM1100 483h1v2h-1zM1083 485h1v1h-1zM1099 485h1v2h-1zM1084 486h1v1h-1zM1085 487h1v1h-1zM1098 487h1v2h-1zM1086 488h1v2h-1zM1096 489h2v1h-2zM1087 490h1v1h-1zM1095 490h1v1h-1zM1088 491h1v1h-1zM1093 491h2v1h-2zM1089 492h1v1h-1zM1091 492h2v1h-2zM1090 493h1v1h-1z" fill="#0000cd"/>
<rect x="912" y="269" width="343" height="6" fill="#fb2525"/>
<rect x="913" y="270" width="341" height="4" fill="#f93737"/>
<rect x="910" y="377" width="345" height="5" fill="#90c400"/>
<rect x="911" y="378" width="343" height="3" fill="#99cc00"/>
<rect x="918" y="545" width="355" height="4" fill="#2587e1"/>
<rect x="919" y="546" width="353" height="2" fill="#3a96e6"/>
<rect x="1419" y="379" width="41" height="11" fill="#000"/>
<text x="1423" y="388" font-size="10" fill="#fff" stroke="#fff" stroke-width="0.2" textLength="33" lengthAdjust="spacingAndGlyphs">0.98719</text>
<rect x="5" y="30" width="7" height="1" fill="#000"/>
<rect x="6" y="31" width="5" height="1" fill="#000"/>
<rect x="7" y="32" width="3" height="1" fill="#000"/>
<rect x="8" y="33" width="1" height="1" fill="#000"/>
<text x="17" y="35" font-size="10" fill="#000" stroke="#000" stroke-width="0.2" textLength="67.5" lengthAdjust="spacingAndGlyphs">USDCHF-,Daily</text>
<text x="91.2" y="35" font-size="10" fill="#000" stroke="#000" stroke-width="0.2" textLength="32.5" lengthAdjust="spacingAndGlyphs">0.98728</text>
<text x="127.25" y="35" font-size="10" fill="#000" stroke="#000" stroke-width="0.2" textLength="32.5" lengthAdjust="spacingAndGlyphs">0.98757</text>
<text x="163.3" y="35" font-size="10" fill="#000" stroke="#000" stroke-width="0.2" textLength="32.5" lengthAdjust="spacingAndGlyphs">0.98703</text>
<text x="199.35" y="35" font-size="10" fill="#000" stroke="#000" stroke-width="0.2" textLength="32.5" lengthAdjust="spacingAndGlyphs">0.98719</text>
<rect x="2" y="607" width="1" height="5" fill="#c0c0c0"/>
<rect x="10" y="602" width="1" height="10" fill="#c0c0c0"/>
<rect x="18" y="599" width="1" height="13" fill="#c0c0c0"/>
<rect x="26" y="598" width="1" height="14" fill="#c0c0c0"/>
<rect x="34" y="597" width="1" height="15" fill="#c0c0c0"/>
<rect x="42" y="597" width="1" height="15" fill="#c0c0c0"/>
<rect x="50" y="598" width="1" height="14" fill="#c0c0c0"/>
<rect x="58" y="599" width="1" height="13" fill="#c0c0c0"/>
<rect x="66" y="599" width="1" height="13" fill="#c0c0c0"/>
<rect x="74" y="599" width="1" height="13" fill="#c0c0c0"/>
<rect x="82" y="600" width="1" height="12" fill="#c0c0c0"/>
<rect x="90" y="599" width="1" height="13" fill="#c0c0c0"/>
<rect x="98" y="598" width="1" height="14" fill="#c0c0c0"/>
<rect x="106" y="597" width="1" height="15" fill="#c0c0c0"/>
<rect x="114" y="595" width="1" height="17" fill="#c0c0c0"/>
<rect x="122" y="592" width="1" height="20" fill="#c0c0c0"/>
<rect x="130" y="590" width="1" height="22" fill="#c0c0c0"/>
<rect x="138" y="590" width="1" height="22" fill="#c0c0c0"/>
<rect x="146" y="591" width="1" height="21" fill="#c0c0c0"/>
<rect x="154" y="589" width="1" height="23" fill="#c0c0c0"/>
<rect x="162" y="586" width="1" height="26" fill="#c0c0c0"/>
<rect x="170" y="583" width="1" height="29" fill="#c0c0c0"/>
<rect x="178" y="583" width="1" height="29" fill="#c0c0c0"/>
<rect x="186" y="583" width="1" height="29" fill="#c0c0c0"/>
<rect x="194" y="584" width="1" height="28" fill="#c0c0c0"/>
<rect x="202" y="585" width="1" height="27" fill="#c0c0c0"/>
<rect x="210" y="588" width="1" height="24" fill="#c0c0c0"/>
<rect x="218" y="591" width="1" height="21" fill="#c0c0c0"/>
<rect x="226" y="593" width="1" height="19" fill="#c0c0c0"/>
<rect x="234" y="596" width="1" height="16" fill="#c0c0c0"/>
<rect x="242" y="598" width="1" height="14" fill="#c0c0c0"/>
<rect x="250" y="600" width="1" height="12" fill="#c0c0c0"/>
<rect x="258" y="602" width="1" height="10" fill="#c0c0c0"/>
<rect x="266" y="603" width="1" height="9" fill="#c0c0c0"/>
<rect x="274" y="606" width="1" height="6" fill="#c0c0c0"/>
<rect x="282" y="607" width="1" height="5" fill="#c0c0c0"/>
<rect x="290" y="608" width="1" height="4" fill="#c0c0c0"/>
<rect x="298" y="609" width="1" height="3" fill="#c0c0c0"/>
<rect x="306" y="606" width="1" height="6" fill="#c0c0c0"/>
<rect x="314" y="605" width="1" height="7" fill="#c0c0c0"/>
<rect x="322" y="599" width="1" height="13" fill="#c0c0c0"/>
<rect x="330" y="597" width="1" height="15" fill="#c0c0c0"/>
<rect x="338" y="596" width="1" height="16" fill="#c0c0c0"/>
<rect x="346" y="593" width="1" height="19" fill="#c0c0c0"/>
<rect x="354" y="593" width="1" height="19" fill="#c0c0c0"/>
<rect x="362" y="596" width="1" height="16" fill="#c0c0c0"/>
<rect x="370" y="598" width="1" height="14" fill="#c0c0c0"/>
<rect x="378" y="600" width="1" height="12" fill="#c0c0c0"/>
<rect x="386" y="602" width="1" height="10" fill="#c0c0c0"/>
<rect x="394" y="605" width="1" height="7" fill="#c0c0c0"/>
<rect x="402" y="608" width="1" height="4" fill="#c0c0c0"/>
<rect x="410" y="611" width="1" height="3" fill="#c0c0c0"/>
<rect x="418" y="611" width="1" height="8" fill="#c0c0c0"/>
<rect x="426" y="611" width="1" height="11" fill="#c0c0c0"/>
<rect x="434" y="611" width="1" height="13" fill="#c0c0c0"/>
<rect x="442" y="611" width="1" height="15" fill="#c0c0c0"/>
<rect x="450" y="611" width="1" height="16" fill="#c0c0c0"/>
<rect x="458" y="611" width="1" height="16" fill="#c0c0c0"/>
<rect x="466" y="611" width="1" height="16" fill="#c0c0c0"/>
<rect x="474" y="611" width="1" height="15" fill="#c0c0c0"/>
<rect x="482" y="611" width="1" height="14" fill="#c0c0c0"/>
<rect x="490" y="611" width="1" height="11" fill="#c0c0c0"/>
<rect x="498" y="611" width="1" height="9" fill="#c0c0c0"/>
<rect x="506" y="611" width="1" height="8" fill="#c0c0c0"/>
<rect x="514" y="611" width="1" height="6" fill="#c0c0c0"/>
<rect x="522" y="611" width="1" height="4" fill="#c0c0c0"/>
<rect x="530" y="611" width="1" height="2" fill="#c0c0c0"/>
<rect x="538" y="611" width="1" height="1" fill="#c0c0c0"/>
<rect x="554" y="610" width="1" height="2" fill="#c0c0c0"/>
<rect x="562" y="608" width="1" height="4" fill="#c0c0c0"/>
<rect x="570" y="606" width="1" height="6" fill="#c0c0c0"/>
<rect x="578" y="605" width="1" height="7" fill="#c0c0c0"/>
<rect x="586" y="604" width="1" height="8" fill="#c0c0c0"/>
<rect x="594" y="601" width="1" height="11" fill="#c0c0c0"/>
<rect x="602" y="596" width="1" height="16" fill="#c0c0c0"/>
<rect x="610" y="590" width="1" height="22" fill="#c0c0c0"/>
<rect x="618" y="587" width="1" height="25" fill="#c0c0c0"/>
<rect x="626" y="583" width="1" height="29" fill="#c0c0c0"/>
<rect x="634" y="578" width="1" height="34" fill="#c0c0c0"/>
<rect x="642" y="575" width="1" height="37" fill="#c0c0c0"/>
<rect x="650" y="572" width="1" height="40" fill="#c0c0c0"/>
<rect x="658" y="571" width="1" height="41" fill="#c0c0c0"/>
<rect x="666" y="571" width="1" height="41" fill="#c0c0c0"/>
<rect x="674" y="571" width="1" height="41" fill="#c0c0c0"/>
<rect x="682" y="572" width="1" height="40" fill="#c0c0c0"/>
<rect x="690" y="574" width="1" height="38" fill="#c0c0c0"/>
<rect x="698" y="575" width="1" height="37" fill="#c0c0c0"/>
<rect x="706" y="577" width="1" height="35" fill="#c0c0c0"/>
<rect x="714" y="580" width="1" height="32" fill="#c0c0c0"/>
<rect x="722" y="582" width="1" height="30" fill="#c0c0c0"/>
<rect x="730" y="582" width="1" height="30" fill="#c0c0c0"/>
<rect x="738" y="583" width="1" height="29" fill="#c0c0c0"/>
<rect x="746" y="586" width="1" height="26" fill="#c0c0c0"/>
<rect x="754" y="591" width="1" height="21" fill="#c0c0c0"/>
<rect x="762" y="596" width="1" height="16" fill="#c0c0c0"/>
<rect x="770" y="603" width="1" height="9" fill="#c0c0c0"/>
<rect x="778" y="607" width="1" height="5" fill="#c0c0c0"/>
<rect x="786" y="610" width="1" height="2" fill="#c0c0c0"/>
<rect x="810" y="611" width="1" height="1" fill="#c0c0c0"/>
<rect x="818" y="611" width="1" height="3" fill="#c0c0c0"/>
<rect x="826" y="611" width="1" height="3" fill="#c0c0c0"/>
<rect x="834" y="611" width="1" height="4" fill="#c0c0c0"/>
<rect x="842" y="611" width="1" height="8" fill="#c0c0c0"/>
<rect x="850" y="611" width="1" height="12" fill="#c0c0c0"/>
<rect x="858" y="611" width="1" height="15" fill="#c0c0c0"/>
<rect x="866" y="611" width="1" height="16" fill="#c0c0c0"/>
<rect x="874" y="611" width="1" height="15" fill="#c0c0c0"/>
<rect x="882" y="611" width="1" height="13" fill="#c0c0c0"/>
<rect x="890" y="611" width="1" height="12" fill="#c0c0c0"/>
<rect x="898" y="611" width="1" height="15" fill="#c0c0c0"/>
<rect x="906" y="611" width="1" height="18" fill="#c0c0c0"/>
<rect x="914" y="611" width="1" height="24" fill="#c0c0c0"/>
<rect x="922" y="611" width="1" height="28" fill="#c0c0c0"/>
<rect x="930" y="611" width="1" height="30" fill="#c0c0c0"/>
<rect x="938" y="611" width="1" height="33" fill="#c0c0c0"/>
<rect x="946" y="611" width="1" height="38" fill="#c0c0c0"/>
<rect x="954" y="611" width="1" height="39" fill="#c0c0c0"/>
<rect x="962" y="611" width="1" height="40" fill="#c0c0c0"/>
<rect x="970" y="611" width="1" height="39" fill="#c0c0c0"/>
<rect x="978" y="611" width="1" height="36" fill="#c0c0c0"/>
<rect x="986" y="611" width="1" height="34" fill="#c0c0c0"/>
<rect x="994" y="611" width="1" height="28" fill="#c0c0c0"/>
<rect x="1002" y="611" width="1" height="24" fill="#c0c0c0"/>
<rect x="1010" y="611" width="1" height="21" fill="#c0c0c0"/>
<rect x="1018" y="611" width="1" height="16" fill="#c0c0c0"/>
<rect x="1026" y="611" width="1" height="18" fill="#c0c0c0"/>
<rect x="1034" y="611" width="1" height="25" fill="#c0c0c0"/>
<rect x="1042" y="611" width="1" height="33" fill="#c0c0c0"/>
<rect x="1050" y="611" width="1" height="40" fill="#c0c0c0"/>
<rect x="1058" y="611" width="1" height="47" fill="#c0c0c0"/>
<rect x="1066" y="611" width="1" height="50" fill="#c0c0c0"/>
<rect x="1074" y="611" width="1" height="50" fill="#c0c0c0"/>
<rect x="1082" y="611" width="1" height="51" fill="#c0c0c0"/>
<rect x="1090" y="611" width="1" height="51" fill="#c0c0c0"/>
<rect x="1098" y="611" width="1" height="48" fill="#c0c0c0"/>
<rect x="1106" y="611" width="1" height="41" fill="#c0c0c0"/>
<rect x="1114" y="611" width="1" height="35" fill="#c0c0c0"/>
<path d="M698 572h3v1h-3zM704 572h3v1h-3zM710 572h1v1h-1zM693 573h2v1h-2zM711 573h2v1h-2zM716 573h3v1h-3zM687 574h2v1h-2zM692 574h1v1h-1zM722 574h3v1h-3zM681 575h2v1h-2zM686 575h1v1h-1zM728 575h3v1h-3zM680 576h1v1h-1zM734 576h3v1h-3zM676 577h1v1h-1zM740 577h3v1h-3zM674 578h2v1h-2zM746 578h3v1h-3zM668 579h3v1h-3zM752 579h1v1h-1zM664 580h1v1h-1zM753 580h2v1h-2zM662 581h2v1h-2zM758 581h1v1h-1zM759 582h2v1h-2zM657 583h2v1h-2zM656 584h1v1h-1zM764 584h3v1h-3zM200 585h3v1h-3zM206 585h3v1h-3zM212 585h3v1h-3zM218 585h3v1h-3zM224 585h3v1h-3zM230 585h1v1h-1zM652 585h1v1h-1zM194 586h3v1h-3zM231 586h2v1h-2zM236 586h1v1h-1zM650 586h2v1h-2zM770 586h2v1h-2zM183 587h2v1h-2zM188 587h3v1h-3zM237 587h2v1h-2zM772 587h1v1h-1zM176 588h3v1h-3zM182 588h1v1h-1zM242 588h3v1h-3zM646 588h1v1h-1zM776 588h1v1h-1zM170 589h3v1h-3zM248 589h1v1h-1zM644 589h2v1h-2zM777 589h2v1h-2zM165 590h2v1h-2zM249 590h2v1h-2zM782 590h1v1h-1zM164 591h1v1h-1zM254 591h3v1h-3zM640 591h1v1h-1zM783 591h2v1h-2zM158 592h3v1h-3zM260 592h1v1h-1zM639 592h1v1h-1zM152 593h3v1h-3zM261 593h2v1h-2zM638 593h1v1h-1zM788 593h2v1h-2zM146 594h3v1h-3zM266 594h3v1h-3zM790 594h1v1h-1zM135 595h2v1h-2zM140 595h3v1h-3zM272 595h1v1h-1zM633 595h2v1h-2zM128 596h3v1h-3zM134 596h1v1h-1zM273 596h2v1h-2zM386 596h3v1h-3zM632 596h1v1h-1zM794 596h2v1h-2zM122 597h3v1h-3zM278 597h3v1h-3zM368 597h3v1h-3zM374 597h3v1h-3zM380 597h3v1h-3zM392 597h3v1h-3zM398 597h1v1h-1zM628 597h1v1h-1zM796 597h1v1h-1zM80 598h3v1h-3zM86 598h3v1h-3zM92 598h3v1h-3zM98 598h3v1h-3zM104 598h3v1h-3zM110 598h3v1h-3zM116 598h3v1h-3zM284 598h1v1h-1zM362 598h3v1h-3zM399 598h2v1h-2zM404 598h1v1h-1zM626 598h2v1h-2zM800 598h1v1h-1zM63 599h2v1h-2zM68 599h3v1h-3zM74 599h3v1h-3zM285 599h2v1h-2zM357 599h2v1h-2zM405 599h2v1h-2zM801 599h2v1h-2zM57 600h2v1h-2zM62 600h1v1h-1zM290 600h3v1h-3zM351 600h2v1h-2zM356 600h1v1h-1zM410 600h2v1h-2zM620 600h3v1h-3zM56 601h1v1h-1zM296 601h1v1h-1zM345 601h2v1h-2zM350 601h1v1h-1zM412 601h1v1h-1zM806 601h2v1h-2zM52 602h1v1h-1zM297 602h2v1h-2zM344 602h1v1h-1zM416 602h1v1h-1zM614 602h3v1h-3zM808 602h1v1h-1zM50 603h2v1h-2zM302 603h3v1h-3zM338 603h3v1h-3zM417 603h2v1h-2zM609 603h2v1h-2zM308 604h3v1h-3zM314 604h3v1h-3zM320 604h3v1h-3zM326 604h3v1h-3zM332 604h3v1h-3zM422 604h1v1h-1zM608 604h1v1h-1zM812 604h3v1h-3zM44 605h3v1h-3zM423 605h2v1h-2zM604 605h1v1h-1zM602 606h2v1h-2zM818 606h3v1h-3zM39 607h2v1h-2zM428 607h3v1h-3zM596 607h3v1h-3zM824 607h1v1h-1zM38 608h1v1h-1zM590 608h3v1h-3zM825 608h2v1h-2zM34 609h1v1h-1zM434 609h2v1h-2zM585 609h2v1h-2zM830 609h1v1h-1zM32 610h2v1h-2zM436 610h1v1h-1zM584 610h1v1h-1zM831 610h2v1h-2zM578 611h3v1h-3zM836 611h3v1h-3zM28 612h1v1h-1zM440 612h2v1h-2zM572 612h3v1h-3zM842 612h2v1h-2zM26 613h2v1h-2zM442 613h1v1h-1zM566 613h3v1h-3zM844 613h1v1h-1zM561 614h2v1h-2zM848 614h1v1h-1zM22 615h1v1h-1zM446 615h2v1h-2zM560 615h1v1h-1zM849 615h2v1h-2zM854 615h1v1h-1zM20 616h2v1h-2zM448 616h1v1h-1zM554 616h3v1h-3zM855 616h2v1h-2zM452 617h1v1h-1zM548 617h3v1h-3zM860 617h3v1h-3zM16 618h1v1h-1zM453 618h2v1h-2zM542 618h3v1h-3zM14 619h2v1h-2zM458 619h2v1h-2zM537 619h2v1h-2zM866 619h3v1h-3zM460 620h1v1h-1zM536 620h1v1h-1zM872 620h3v1h-3zM9 621h2v1h-2zM530 621h3v1h-3zM878 621h3v1h-3zM8 622h1v1h-1zM464 622h2v1h-2zM519 622h2v1h-2zM524 622h3v1h-3zM884 622h3v1h-3zM890 622h3v1h-3zM4 623h1v1h-1zM466 623h1v1h-1zM470 623h1v1h-1zM512 623h3v1h-3zM518 623h1v1h-1zM896 623h1v1h-1zM2 624h2v1h-2zM471 624h2v1h-2zM476 624h3v1h-3zM506 624h3v1h-3zM897 624h2v1h-2zM902 624h1v1h-1zM482 625h3v1h-3zM488 625h3v1h-3zM494 625h3v1h-3zM500 625h3v1h-3zM903 625h2v1h-2zM908 625h3v1h-3zM914 626h2v1h-2zM916 627h1v1h-1zM920 628h1v1h-1zM921 629h2v1h-2zM926 629h1v1h-1zM927 630h2v1h-2zM932 630h1v1h-1zM933 631h2v1h-2zM938 632h3v1h-3zM944 633h1v1h-1zM945 634h2v1h-2zM950 636h2v1h-2zM952 637h1v1h-1zM1040 637h3v1h-3zM1046 637h1v1h-1zM956 638h1v1h-1zM1034 638h3v1h-3zM1047 638h2v1h-2zM1052 638h3v1h-3zM957 639h2v1h-2zM1029 639h2v1h-2zM1058 639h2v1h-2zM962 640h2v1h-2zM1028 640h1v1h-1zM1060 640h1v1h-1zM964 641h1v1h-1zM1022 641h3v1h-3zM1064 641h1v1h-1zM1017 642h2v1h-2zM1065 642h2v1h-2zM968 643h2v1h-2zM1016 643h1v1h-1zM1070 643h3v1h-3zM970 644h1v1h-1zM974 644h1v1h-1zM1012 644h1v1h-1zM975 645h2v1h-2zM980 645h3v1h-3zM1010 645h2v1h-2zM1076 645h2v1h-2zM986 646h3v1h-3zM992 646h3v1h-3zM998 646h3v1h-3zM1004 646h3v1h-3zM1078 646h1v1h-1zM1082 648h2v1h-2zM1084 649h1v1h-1zM1088 651h2v1h-2zM1090 652h1v1h-1zM1094 653h1v1h-1zM1095 654h2v1h-2zM1100 655h1v1h-1zM1101 656h2v1h-2zM1106 657h3v1h-3zM1112 657h3v1h-3z" fill="#ff0000"/>
<text x="6" y="577" font-size="10" fill="#000" stroke="#000" stroke-width="0.2" textLength="66" lengthAdjust="spacingAndGlyphs">MACD(12,26,9)</text>
<text x="75.6" y="577" font-size="10" fill="#000" stroke="#000" stroke-width="0.2" textLength="40" lengthAdjust="spacingAndGlyphs">-0.004788</text>
<text x="119.3" y="577" font-size="10" fill="#000" stroke="#000" stroke-width="0.2" textLength="40.4" lengthAdjust="spacingAndGlyphs">-0.006293</text>
<line x1="3" y1="709.5" x2="1417" y2="709.5" stroke="#c0c0c0" stroke-width="1" stroke-dasharray="3 3"/>
<line x1="3" y1="760.5" x2="1417" y2="760.5" stroke="#c0c0c0" stroke-width="1" stroke-dasharray="3 3"/>
<path d="M634 695h11v1h-11zM633 696h1v1h-1zM645 696h4v1h-4zM631 697h2v1h-2zM649 697h3v1h-3zM630 698h1v1h-1zM652 698h2v1h-2zM610 699h2v1h-2zM629 699h1v1h-1zM654 699h2v1h-2zM609 700h1v1h-1zM612 700h3v1h-3zM627 700h2v1h-2zM656 700h2v1h-2zM671 700h6v1h-6zM607 701h2v1h-2zM615 701h2v1h-2zM623 701h4v1h-4zM658 701h13v1h-13zM677 701h4v1h-4zM606 702h1v1h-1zM617 702h6v1h-6zM681 702h2v1h-2zM605 703h1v1h-1zM683 703h1v1h-1zM603 704h2v1h-2zM684 704h1v1h-1zM602 705h1v1h-1zM685 705h1v1h-1zM601 706h1v1h-1zM686 706h1v2h-1zM170 707h1v1h-1zM599 707h2v1h-2zM698 707h1v1h-1zM168 708h2v1h-2zM171 708h1v2h-1zM598 708h1v1h-1zM687 708h1v1h-1zM696 708h2v1h-2zM699 708h1v1h-1zM166 709h2v1h-2zM597 709h1v1h-1zM688 709h1v1h-1zM694 709h2v1h-2zM700 709h1v1h-1zM164 710h2v1h-2zM172 710h1v1h-1zM322 710h1v1h-1zM595 710h2v1h-2zM689 710h1v1h-1zM692 710h2v1h-2zM701 710h1v1h-1zM162 711h2v1h-2zM173 711h1v2h-1zM321 711h1v2h-1zM323 711h1v1h-1zM594 711h1v1h-1zM690 711h2v1h-2zM702 711h1v1h-1zM735 711h4v1h-4zM160 712h2v1h-2zM324 712h1v2h-1zM593 712h1v1h-1zM703 712h1v1h-1zM730 712h5v1h-5zM738 712h1v1h-1zM158 713h2v1h-2zM174 713h1v1h-1zM320 713h1v2h-1zM592 713h1v1h-1zM704 713h1v1h-1zM728 713h2v1h-2zM739 713h1v2h-1zM122 714h9v1h-9zM156 714h2v1h-2zM175 714h1v2h-1zM325 714h1v1h-1zM591 714h1v1h-1zM705 714h1v1h-1zM727 714h1v1h-1zM120 715h2v1h-2zM131 715h1v1h-1zM154 715h2v1h-2zM319 715h1v1h-1zM326 715h1v1h-1zM346 715h1v1h-1zM590 715h1v2h-1zM706 715h1v1h-1zM725 715h2v1h-2zM740 715h1v2h-1zM119 716h1v1h-1zM132 716h1v1h-1zM153 716h1v1h-1zM176 716h1v1h-1zM318 716h1v2h-1zM327 716h1v1h-1zM344 716h2v1h-2zM347 716h1v1h-1zM707 716h2v1h-2zM723 716h2v1h-2zM117 717h2v1h-2zM133 717h2v1h-2zM152 717h1v1h-1zM177 717h1v2h-1zM328 717h1v2h-1zM342 717h2v1h-2zM348 717h1v1h-1zM589 717h1v1h-1zM709 717h2v1h-2zM721 717h2v1h-2zM741 717h1v2h-1zM115 718h2v1h-2zM135 718h1v1h-1zM151 718h1v1h-1zM317 718h1v1h-1zM340 718h2v1h-2zM349 718h1v1h-1zM588 718h1v1h-1zM711 718h1v1h-1zM719 718h2v1h-2zM113 719h2v1h-2zM136 719h1v1h-1zM150 719h1v1h-1zM178 719h13v1h-13zM316 719h1v2h-1zM329 719h1v1h-1zM335 719h5v1h-5zM350 719h1v1h-1zM587 719h1v1h-1zM712 719h2v1h-2zM716 719h3v1h-3zM742 719h1v3h-1zM111 720h2v1h-2zM137 720h1v1h-1zM149 720h1v1h-1zM191 720h12v1h-12zM330 720h5v1h-5zM351 720h1v1h-1zM586 720h1v1h-1zM714 720h2v1h-2zM9 721h10v1h-10zM108 721h3v1h-3zM138 721h3v1h-3zM148 721h1v1h-1zM203 721h1v1h-1zM306 721h3v1h-3zM315 721h1v2h-1zM352 721h1v1h-1zM584 721h2v1h-2zM5 722h4v1h-4zM19 722h2v1h-2zM106 722h2v1h-2zM141 722h4v1h-4zM147 722h1v1h-1zM204 722h1v1h-1zM305 722h1v2h-1zM309 722h4v1h-4zM353 722h1v1h-1zM561 722h12v1h-12zM582 722h2v1h-2zM743 722h1v2h-1zM2 723h3v1h-3zM21 723h2v1h-2zM104 723h2v1h-2zM145 723h2v1h-2zM205 723h1v1h-1zM313 723h2v1h-2zM354 723h1v1h-1zM557 723h4v1h-4zM573 723h4v1h-4zM580 723h2v1h-2zM23 724h1v1h-1zM102 724h2v1h-2zM206 724h1v2h-1zM304 724h1v2h-1zM355 724h1v1h-1zM554 724h3v1h-3zM577 724h3v1h-3zM744 724h1v2h-1zM24 725h2v1h-2zM31 725h4v1h-4zM100 725h2v1h-2zM356 725h1v2h-1zM553 725h1v1h-1zM26 726h5v1h-5zM35 726h2v1h-2zM89 726h11v1h-11zM207 726h1v1h-1zM303 726h1v2h-1zM552 726h1v1h-1zM745 726h1v2h-1zM37 727h2v1h-2zM87 727h2v1h-2zM208 727h1v1h-1zM357 727h1v1h-1zM551 727h1v1h-1zM39 728h1v1h-1zM66 728h5v1h-5zM84 728h3v1h-3zM209 728h1v1h-1zM302 728h1v1h-1zM358 728h1v1h-1zM549 728h2v1h-2zM746 728h1v2h-1zM40 729h2v1h-2zM64 729h2v1h-2zM71 729h13v1h-13zM210 729h2v1h-2zM301 729h1v2h-1zM359 729h1v1h-1zM527 729h5v1h-5zM548 729h1v1h-1zM42 730h5v1h-5zM62 730h2v1h-2zM212 730h3v1h-3zM360 730h1v2h-1zM514 730h13v1h-13zM532 730h3v1h-3zM547 730h1v1h-1zM747 730h1v1h-1zM47 731h8v1h-8zM60 731h2v1h-2zM215 731h2v1h-2zM223 731h6v1h-6zM265 731h2v1h-2zM300 731h1v2h-1zM490 731h2v1h-2zM513 731h1v1h-1zM535 731h2v1h-2zM543 731h4v1h-4zM748 731h1v1h-1zM55 732h5v1h-5zM217 732h6v1h-6zM229 732h4v1h-4zM263 732h2v1h-2zM267 732h1v2h-1zM361 732h1v1h-1zM489 732h1v2h-1zM492 732h2v1h-2zM512 732h1v1h-1zM537 732h6v1h-6zM749 732h1v1h-1zM1018 732h1v1h-1zM233 733h22v1h-22zM260 733h3v1h-3zM299 733h1v2h-1zM362 733h10v1h-10zM494 733h2v1h-2zM511 733h1v1h-1zM750 733h1v2h-1zM1016 733h2v1h-2zM1019 733h1v2h-1zM255 734h5v1h-5zM268 734h1v1h-1zM372 734h3v1h-3zM488 734h1v1h-1zM496 734h2v1h-2zM509 734h2v1h-2zM1014 734h2v1h-2zM269 735h1v1h-1zM282 735h3v1h-3zM297 735h2v1h-2zM375 735h2v1h-2zM487 735h1v2h-1zM498 735h3v1h-3zM508 735h1v1h-1zM751 735h1v1h-1zM994 735h13v1h-13zM1012 735h2v1h-2zM1020 735h1v2h-1zM270 736h1v2h-1zM281 736h1v1h-1zM285 736h4v1h-4zM293 736h4v1h-4zM377 736h11v1h-11zM501 736h4v1h-4zM507 736h1v1h-1zM752 736h1v1h-1zM826 736h1v1h-1zM881 736h3v1h-3zM993 736h1v2h-1zM1007 736h5v1h-5zM1106 736h9v1h-9zM280 737h1v1h-1zM289 737h4v1h-4zM388 737h3v1h-3zM486 737h1v1h-1zM505 737h2v1h-2zM753 737h1v1h-1zM801 737h4v1h-4zM825 737h1v1h-1zM827 737h2v1h-2zM879 737h2v1h-2zM884 737h3v1h-3zM1021 737h1v2h-1zM1105 737h1v2h-1zM271 738h1v1h-1zM279 738h1v1h-1zM391 738h2v1h-2zM485 738h1v2h-1zM754 738h1v1h-1zM797 738h4v1h-4zM805 738h4v1h-4zM824 738h1v1h-1zM829 738h2v1h-2zM876 738h3v1h-3zM887 738h2v1h-2zM992 738h1v1h-1zM272 739h1v1h-1zM277 739h2v1h-2zM393 739h2v1h-2zM755 739h2v1h-2zM794 739h3v1h-3zM809 739h3v1h-3zM823 739h1v1h-1zM831 739h1v1h-1zM874 739h2v1h-2zM889 739h2v1h-2zM991 739h1v1h-1zM1022 739h1v1h-1zM1104 739h1v1h-1zM273 740h1v2h-1zM276 740h1v1h-1zM395 740h2v1h-2zM484 740h1v1h-1zM757 740h2v1h-2zM792 740h2v1h-2zM812 740h2v1h-2zM821 740h2v1h-2zM832 740h2v1h-2zM873 740h1v1h-1zM891 740h1v2h-1zM990 740h1v2h-1zM1023 740h1v2h-1zM1103 740h1v2h-1zM275 741h1v1h-1zM397 741h2v1h-2zM473 741h4v1h-4zM483 741h1v2h-1zM759 741h1v1h-1zM791 741h1v1h-1zM814 741h2v1h-2zM820 741h1v1h-1zM834 741h1v1h-1zM872 741h1v1h-1zM274 742h1v1h-1zM399 742h1v1h-1zM471 742h2v1h-2zM477 742h4v1h-4zM760 742h2v1h-2zM789 742h2v1h-2zM816 742h2v1h-2zM819 742h1v1h-1zM835 742h1v2h-1zM871 742h1v1h-1zM892 742h1v1h-1zM989 742h1v1h-1zM1024 742h1v2h-1zM1102 742h1v1h-1zM400 743h2v1h-2zM468 743h3v1h-3zM481 743h2v1h-2zM762 743h1v1h-1zM778 743h5v1h-5zM787 743h2v1h-2zM818 743h1v1h-1zM870 743h1v1h-1zM893 743h1v2h-1zM988 743h1v1h-1zM1101 743h1v2h-1zM402 744h1v1h-1zM463 744h5v1h-5zM763 744h1v1h-1zM777 744h1v1h-1zM783 744h4v1h-4zM836 744h1v1h-1zM869 744h1v1h-1zM978 744h3v1h-3zM987 744h1v2h-1zM1025 744h1v2h-1zM403 745h1v2h-1zM457 745h6v1h-6zM764 745h1v2h-1zM776 745h1v2h-1zM837 745h1v1h-1zM868 745h1v1h-1zM894 745h1v1h-1zM977 745h1v1h-1zM981 745h4v1h-4zM1100 745h1v1h-1zM453 746h4v1h-4zM838 746h1v2h-1zM867 746h1v1h-1zM895 746h1v2h-1zM975 746h2v1h-2zM985 746h2v1h-2zM1026 746h1v1h-1zM1099 746h1v2h-1zM404 747h1v2h-1zM450 747h3v1h-3zM765 747h1v1h-1zM775 747h1v1h-1zM866 747h1v1h-1zM974 747h1v1h-1zM1027 747h1v2h-1zM426 748h5v1h-5zM448 748h2v1h-2zM766 748h1v1h-1zM774 748h1v1h-1zM839 748h1v1h-1zM865 748h1v1h-1zM896 748h1v1h-1zM973 748h1v1h-1zM1098 748h1v1h-1zM405 749h1v1h-1zM425 749h1v1h-1zM431 749h5v1h-5zM447 749h1v1h-1zM767 749h1v1h-1zM773 749h1v1h-1zM840 749h1v1h-1zM863 749h2v1h-2zM897 749h1v2h-1zM971 749h2v1h-2zM1028 749h1v2h-1zM1097 749h1v1h-1zM406 750h1v2h-1zM424 750h1v1h-1zM436 750h3v1h-3zM445 750h2v1h-2zM768 750h1v2h-1zM772 750h1v2h-1zM841 750h1v2h-1zM862 750h1v1h-1zM970 750h1v1h-1zM1096 750h1v1h-1zM423 751h1v1h-1zM439 751h2v1h-2zM443 751h2v1h-2zM861 751h1v1h-1zM898 751h5v1h-5zM969 751h1v1h-1zM1029 751h1v1h-1zM1095 751h1v1h-1zM407 752h1v1h-1zM421 752h2v1h-2zM441 752h2v1h-2zM769 752h1v1h-1zM771 752h1v1h-1zM842 752h2v1h-2zM859 752h2v1h-2zM903 752h4v1h-4zM968 752h1v1h-1zM1030 752h1v2h-1zM1094 752h1v2h-1zM408 753h1v2h-1zM420 753h1v1h-1zM770 753h1v1h-1zM844 753h2v1h-2zM857 753h2v1h-2zM907 753h1v1h-1zM967 753h1v1h-1zM419 754h1v1h-1zM846 754h2v1h-2zM855 754h2v1h-2zM908 754h1v1h-1zM966 754h1v1h-1zM1031 754h1v1h-1zM1093 754h1v1h-1zM409 755h1v2h-1zM417 755h2v1h-2zM848 755h2v1h-2zM852 755h3v1h-3zM909 755h1v1h-1zM965 755h1v1h-1zM1032 755h1v2h-1zM1092 755h1v1h-1zM413 756h4v1h-4zM850 756h2v1h-2zM910 756h1v2h-1zM964 756h1v1h-1zM1074 756h13v1h-13zM1091 756h1v1h-1zM410 757h3v1h-3zM930 757h2v1h-2zM954 757h5v1h-5zM963 757h1v1h-1zM1033 757h1v2h-1zM1072 757h2v1h-2zM1087 757h4v1h-4zM911 758h1v1h-1zM928 758h2v1h-2zM932 758h2v1h-2zM953 758h1v1h-1zM959 758h4v1h-4zM1071 758h1v1h-1zM912 759h1v1h-1zM927 759h1v1h-1zM934 759h2v1h-2zM952 759h1v1h-1zM1034 759h2v1h-2zM1069 759h2v1h-2zM913 760h1v1h-1zM925 760h2v1h-2zM936 760h2v1h-2zM951 760h1v1h-1zM1036 760h3v1h-3zM1067 760h2v1h-2zM914 761h5v1h-5zM923 761h2v1h-2zM938 761h1v1h-1zM950 761h1v2h-1zM1039 761h2v1h-2zM1066 761h1v1h-1zM919 762h4v1h-4zM939 762h2v1h-2zM1041 762h4v1h-4zM1064 762h2v1h-2zM941 763h2v1h-2zM949 763h1v1h-1zM1045 763h4v1h-4zM1063 763h1v1h-1zM943 764h1v1h-1zM948 764h1v1h-1zM1049 764h4v1h-4zM1061 764h2v1h-2zM944 765h2v1h-2zM947 765h1v1h-1zM1053 765h4v1h-4zM1059 765h2v1h-2zM946 766h1v1h-1zM1057 766h2v1h-2z" fill="#1e90ff"/>
<text x="6" y="682" font-size="10" fill="#000" stroke="#000" stroke-width="0.2" textLength="68" lengthAdjust="spacingAndGlyphs">RSI(14) 49.1196</text>
<rect x="2" y="800" width="1" height="3" fill="#000"/>
<text x="1.7" y="812" font-size="10" fill="#000" stroke="#000" stroke-width="0.2" textLength="49.6" lengthAdjust="spacingAndGlyphs">20 Jan 2019</text>
<rect x="66" y="800" width="1" height="3" fill="#000"/>
<text x="65.7" y="812" font-size="10" fill="#000" stroke="#000" stroke-width="0.2" textLength="49.6" lengthAdjust="spacingAndGlyphs">29 Jan 2019</text>
<rect x="130" y="800" width="1" height="3" fill="#000"/>
<text x="129.7" y="812" font-size="10" fill="#000" stroke="#000" stroke-width="0.2" textLength="46.1" lengthAdjust="spacingAndGlyphs">7 Feb 2019</text>
<rect x="194" y="800" width="1" height="3" fill="#000"/>
<text x="193.7" y="812" font-size="10" fill="#000" stroke="#000" stroke-width="0.2" textLength="51.2" lengthAdjust="spacingAndGlyphs">17 Feb 2019</text>
<rect x="258" y="800" width="1" height="3" fill="#000"/>
<text x="257.7" y="812" font-size="10" fill="#000" stroke="#000" stroke-width="0.2" textLength="51.3" lengthAdjust="spacingAndGlyphs">26 Feb 2019</text>
<rect x="322" y="800" width="1" height="3" fill="#000"/>
<text x="321.7" y="812" font-size="10" fill="#000" stroke="#000" stroke-width="0.2" textLength="46.4" lengthAdjust="spacingAndGlyphs">7 Mar 2019</text>
<rect x="386" y="800" width="1" height="3" fill="#000"/>
<text x="385.7" y="812" font-size="10" fill="#000" stroke="#000" stroke-width="0.2" textLength="51.3" lengthAdjust="spacingAndGlyphs">17 Mar 2019</text>
<rect x="450" y="800" width="1" height="3" fill="#000"/>
<text x="449.7" y="812" font-size="10" fill="#000" stroke="#000" stroke-width="0.2" textLength="51.3" lengthAdjust="spacingAndGlyphs">26 Mar 2019</text>
<rect x="514" y="800" width="1" height="3" fill="#000"/>
<text x="513.7" y="812" font-size="10" fill="#000" stroke="#000" stroke-width="0.2" textLength="45.4" lengthAdjust="spacingAndGlyphs">4 Apr 2019</text>
<rect x="578" y="800" width="1" height="3" fill="#000"/>
<text x="577.7" y="812" font-size="10" fill="#000" stroke="#000" stroke-width="0.2" textLength="50.2" lengthAdjust="spacingAndGlyphs">14 Apr 2019</text>
<rect x="642" y="800" width="1" height="3" fill="#000"/>
<text x="641.7" y="812" font-size="10" fill="#000" stroke="#000" stroke-width="0.2" textLength="50.6" lengthAdjust="spacingAndGlyphs">24 Apr 2019</text>
<rect x="706" y="800" width="1" height="3" fill="#000"/>
<text x="705.7" y="812" font-size="10" fill="#000" stroke="#000" stroke-width="0.2" textLength="49.5" lengthAdjust="spacingAndGlyphs">3 May 2019</text>
<rect x="770" y="800" width="1" height="3" fill="#000"/>
<text x="769.7" y="812" font-size="10" fill="#000" stroke="#000" stroke-width="0.2" textLength="53.7" lengthAdjust="spacingAndGlyphs">13 May 2019</text>
<rect x="834" y="800" width="1" height="3" fill="#000"/>
<text x="833.7" y="812" font-size="10" fill="#000" stroke="#000" stroke-width="0.2" textLength="53.7" lengthAdjust="spacingAndGlyphs">22 May 2019</text>
<rect x="898" y="800" width="1" height="3" fill="#000"/>
<text x="897.7" y="812" font-size="10" fill="#000" stroke="#000" stroke-width="0.2" textLength="54" lengthAdjust="spacingAndGlyphs">31 May 2019</text>
<rect x="962" y="800" width="1" height="3" fill="#000"/>
<text x="961.7" y="812" font-size="10" fill="#000" stroke="#000" stroke-width="0.2" textLength="49.6" lengthAdjust="spacingAndGlyphs">10 Jun 2019</text>
<rect x="1026" y="800" width="1" height="3" fill="#000"/>
<text x="1025.7" y="812" font-size="10" fill="#000" stroke="#000" stroke-width="0.2" textLength="49.6" lengthAdjust="spacingAndGlyphs">19 Jun 2019</text>
<rect x="1090" y="800" width="1" height="3" fill="#000"/>
<text x="1089.7" y="812" font-size="10" fill="#000" stroke="#000" stroke-width="0.2" textLength="49.4" lengthAdjust="spacingAndGlyphs">28 Jun 2019</text>
<rect x="0" y="820" width="1463" height="1" fill="#e3e3e3"/>
<rect x="0" y="822" width="1463" height="1" fill="#000"/>
<rect x="0" y="823" width="1463" height="1" fill="#fbfbfb"/>
<rect x="0" y="824" width="1463" height="18" fill="#f0f0f0"/>
<rect x="0" y="843" width="1463" height="2" fill="#f0f0f0"/>
<rect x="218" y="823" width="1" height="19" fill="#fbfbfb"/>
<rect x="220" y="822" width="106" height="19" fill="#fff"/>
<rect x="219" y="822" width="1" height="19" fill="#000"/>
<rect x="326" y="822" width="1" height="19" fill="#000"/>
<rect x="219" y="840" width="108" height="1" fill="#000"/>
<rect x="327" y="823" width="1" height="18" fill="#d4d4d4"/>
<text x="15" y="837" font-size="12" fill="#6e6e6e" stroke="#6e6e6e" stroke-width="0.15" textLength="84" lengthAdjust="spacingAndGlyphs">EURUSD-,Daily</text>
<text x="121" y="837" font-size="12" fill="#6e6e6e" stroke="#6e6e6e" stroke-width="0.15" textLength="87" lengthAdjust="spacingAndGlyphs">AUDUSD-,Daily</text>
<text x="231.3" y="837" font-size="12" fill="#000" stroke="#000" stroke-width="0.15" textLength="83.7" lengthAdjust="spacingAndGlyphs">USDCHF-,Daily</text>
<text x="338" y="837" font-size="12" fill="#6e6e6e" stroke="#6e6e6e" stroke-width="0.15" textLength="86" lengthAdjust="spacingAndGlyphs">USDCAD-,Daily</text>
<text x="447" y="837" font-size="12" fill="#6e6e6e" stroke="#6e6e6e" stroke-width="0.15" textLength="88" lengthAdjust="spacingAndGlyphs">USDCNH-,Daily</text>
<text x="558.5" y="837" font-size="12" fill="#6e6e6e" stroke="#6e6e6e" stroke-width="0.15" textLength="96.5" lengthAdjust="spacingAndGlyphs">EURCHF-,Weekly</text>
<text x="679" y="837" font-size="12" fill="#6e6e6e" stroke="#6e6e6e" stroke-width="0.15" textLength="83.5" lengthAdjust="spacingAndGlyphs">XAUUSD-,M15</text>
<text x="786.5" y="837" font-size="12" fill="#6e6e6e" stroke="#6e6e6e" stroke-width="0.15" textLength="72" lengthAdjust="spacingAndGlyphs">GBPUSD-,H1</text>
<text x="882.5" y="837" font-size="12" fill="#6e6e6e" stroke="#6e6e6e" stroke-width="0.15" textLength="68.5" lengthAdjust="spacingAndGlyphs">UKOil-,Daily</text>
<rect x="111" y="825" width="1" height="14" fill="#8c8c8c"/>
<rect x="436" y="825" width="1" height="14" fill="#8c8c8c"/>
<rect x="547" y="825" width="1" height="14" fill="#8c8c8c"/>
<rect x="667" y="825" width="1" height="14" fill="#8c8c8c"/>
<rect x="775" y="825" width="1" height="14" fill="#8c8c8c"/>
<rect x="871" y="825" width="1" height="14" fill="#8c8c8c"/>
<rect x="964" y="825" width="1" height="14" fill="#8c8c8c"/>
<rect x="1433" y="830" width="1" height="2" fill="#999"/>
<rect x="1434" y="829" width="1" height="4" fill="#999"/>
<rect x="1435" y="828" width="1" height="6" fill="#999"/>
<rect x="1452" y="828" width="1" height="6" fill="#999"/>
<rect x="1453" y="829" width="1" height="4" fill="#999"/>
<rect x="1454" y="830" width="1" height="2" fill="#999"/>
</svg></body></html>
